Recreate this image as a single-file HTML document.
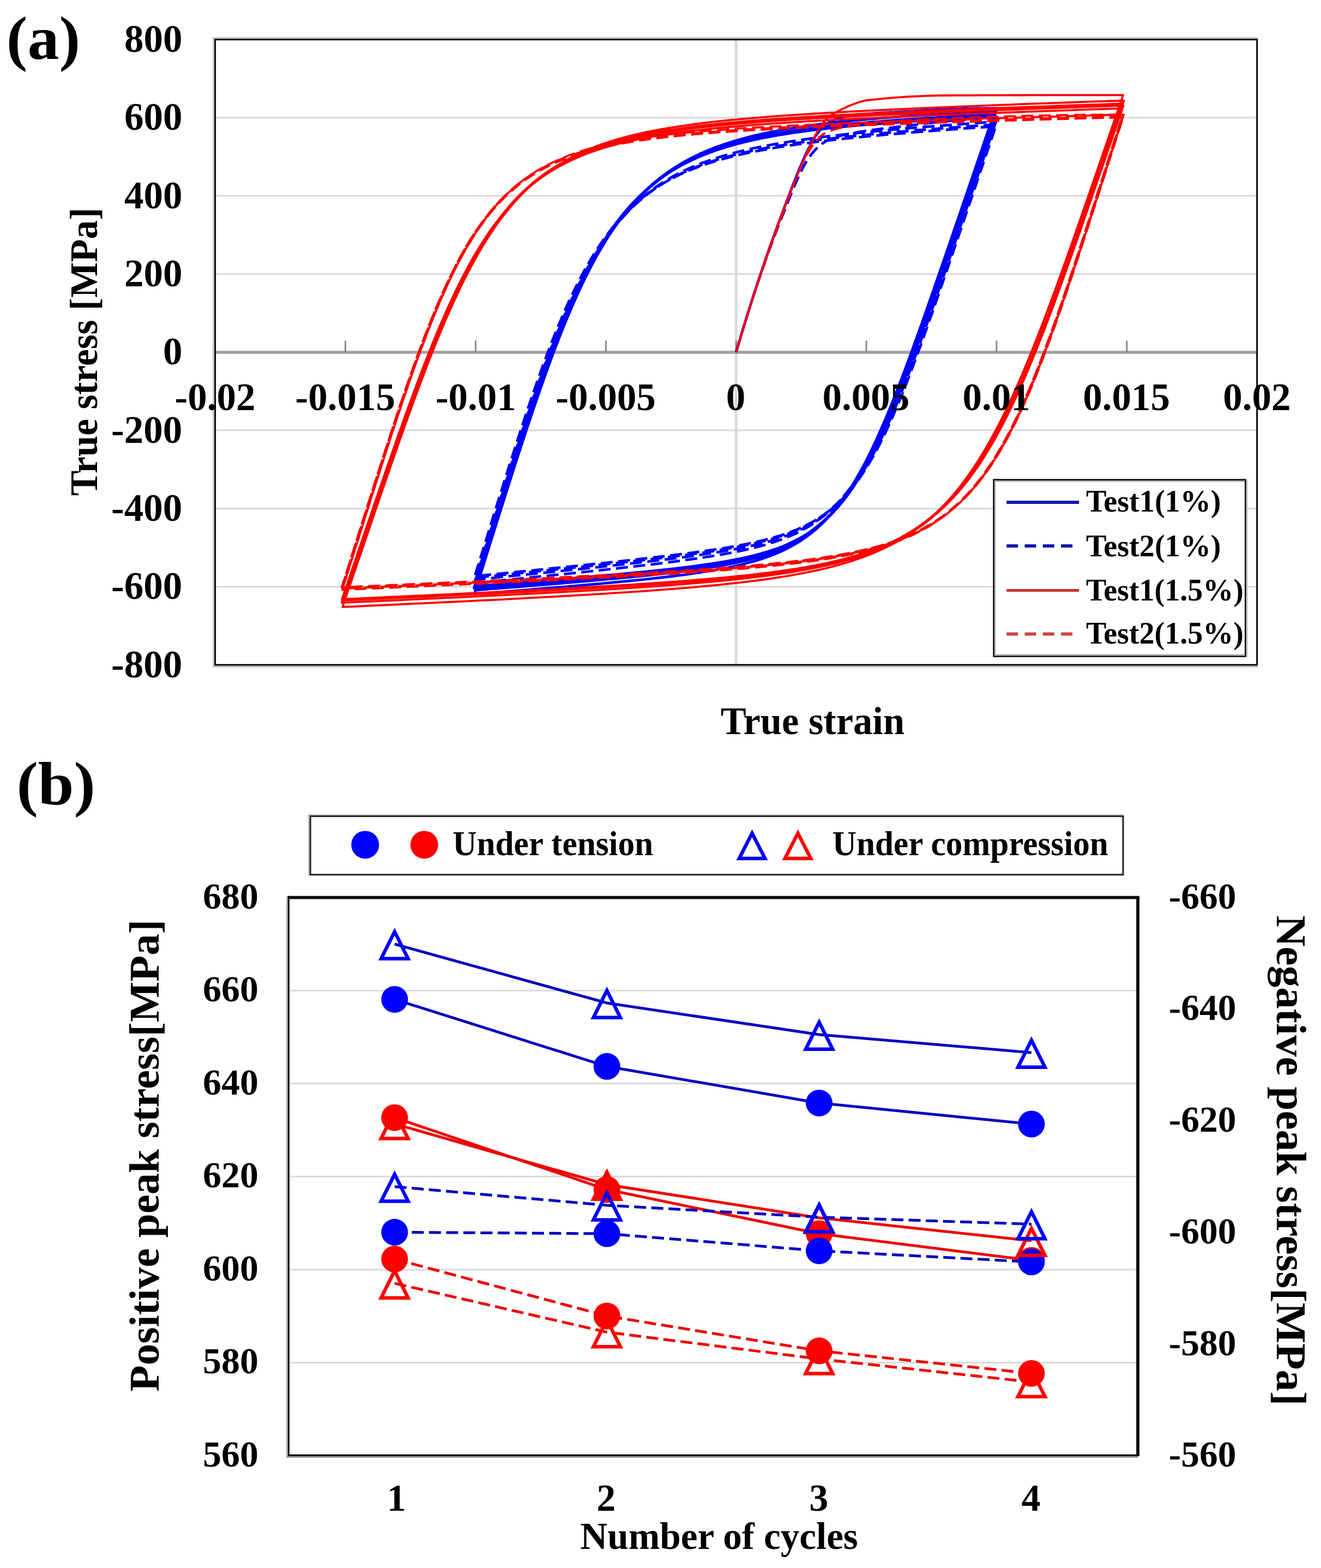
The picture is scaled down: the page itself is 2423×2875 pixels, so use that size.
<!DOCTYPE html><html><head><meta charset="utf-8"><title>Cyclic stress-strain response</title><style>html,body{margin:0;padding:0;background:#fff}svg{display:block}text{font-family:"Liberation Serif","Times New Roman",serif;font-weight:bold;fill:#000}</style></head><body>
<svg width="2423" height="2875" viewBox="0 0 2423 2875">
<rect x="0" y="0" width="2423" height="2875" fill="#fff"/>
<g id="panel-a">
<line x1="394.6" y1="215.8" x2="2305.7" y2="215.8" stroke="#d9d9d9" stroke-width="3"/>
<line x1="394.6" y1="359.1" x2="2305.7" y2="359.1" stroke="#d9d9d9" stroke-width="3"/>
<line x1="394.6" y1="502.4" x2="2305.7" y2="502.4" stroke="#d9d9d9" stroke-width="3"/>
<line x1="394.6" y1="789.1" x2="2305.7" y2="789.1" stroke="#d9d9d9" stroke-width="3"/>
<line x1="394.6" y1="932.4" x2="2305.7" y2="932.4" stroke="#d9d9d9" stroke-width="3"/>
<line x1="394.6" y1="1075.7" x2="2305.7" y2="1075.7" stroke="#d9d9d9" stroke-width="3"/>
<line x1="1350.15" y1="72.5" x2="1350.15" y2="1219.0" stroke="#d9d9d9" stroke-width="5"/>
<line x1="394.6" y1="645.9" x2="2305.7" y2="645.9" stroke="#a0a0a0" stroke-width="5.5"/>
<line x1="633.5" y1="624.5" x2="633.5" y2="646" stroke="#8a8a8a" stroke-width="3"/>
<line x1="872.4" y1="624.5" x2="872.4" y2="646" stroke="#8a8a8a" stroke-width="3"/>
<line x1="1111.3" y1="624.5" x2="1111.3" y2="646" stroke="#8a8a8a" stroke-width="3"/>
<line x1="1350.2" y1="624.5" x2="1350.2" y2="646" stroke="#8a8a8a" stroke-width="3"/>
<line x1="1589.0" y1="624.5" x2="1589.0" y2="646" stroke="#8a8a8a" stroke-width="3"/>
<line x1="1827.9" y1="624.5" x2="1827.9" y2="646" stroke="#8a8a8a" stroke-width="3"/>
<line x1="2066.8" y1="624.5" x2="2066.8" y2="646" stroke="#8a8a8a" stroke-width="3"/>
<g fill="none" stroke-linejoin="round" stroke-linecap="butt">
<path d="M1350.2,645.8L1350.9,643.1L1352.1,639.3L1353.4,634.8L1354.9,629.8L1356.5,624.5L1358.2,618.9L1359.9,613.0L1361.8,606.9L1363.7,600.6L1365.7,594.1L1367.8,587.5L1369.9,580.7L1372.0,573.7L1374.2,566.7L1376.5,559.5L1378.8,552.3L1381.2,544.9L1383.6,537.5L1386.0,530.0L1388.5,522.5L1391.0,514.9L1393.5,507.2L1396.1,499.5L1398.7,491.7L1401.4,483.9L1404.0,476.1L1406.7,468.3L1409.5,460.4L1412.3,452.5L1415.1,444.6L1417.9,436.7L1420.7,428.8L1423.6,420.9L1426.5,413.0L1429.5,405.1L1432.4,397.2L1435.4,389.3L1438.4,381.2L1441.4,373.2L1444.5,365.1L1447.6,357.0L1450.7,348.9L1453.8,340.8L1456.9,332.8L1460.1,324.8L1463.3,317.0L1466.5,309.2L1469.7,301.6L1473.0,294.1L1476.2,286.8L1479.5,279.7L1482.8,272.9L1486.2,266.3L1489.5,260.0L1492.9,254.0L1496.2,248.7L1499.6,244.2L1503.1,239.9L1506.5,236.0L1510.0,232.4L1513.4,229.3L1516.9,226.8L1520.4,224.8L1523.9,223.0L1527.5,221.2L1531.0,219.6L1534.6,218.2L1538.2,216.9L1541.8,215.7L1545.4,214.8L1549.0,214.0L1552.7,213.4L1556.4,212.8L1560.0,212.3L1563.7,211.8L1567.4,211.3L1571.2,210.8L1574.9,210.4L1578.7,210.0L1582.4,209.6L1586.2,209.2L1590.0,208.9L1593.8,208.6L1597.6,208.3L1601.5,208.0L1605.3,207.7L1609.2,207.4L1613.1,207.2L1617.0,206.9L1620.9,206.7L1624.8,206.5L1628.7,206.2L1632.7,206.0L1636.6,205.8L1640.6,205.6L1644.6,205.3L1648.5,205.1L1652.6,204.9L1656.6,204.7L1660.6,204.4L1664.6,204.2L1668.7,204.0L1672.8,203.8L1676.8,203.6L1680.9,203.3L1685.0,203.1L1689.1,202.9L1693.3,202.7L1697.4,202.5L1701.6,202.3L1705.7,202.1L1709.9,201.9L1714.1,201.7L1718.3,201.5L1722.5,201.3L1726.7,201.1L1730.9,200.9L1735.1,200.7L1739.4,200.6L1743.6,200.4L1747.9,200.2L1752.2,200.1L1756.5,199.9L1760.8,199.8L1765.1,199.6L1769.4,199.5L1773.7,199.4L1778.1,199.3L1782.4,199.2L1786.8,199.1L1791.2,199.0L1795.5,198.9L1799.9,198.8L1804.3,198.8L1808.7,198.7L1813.2,198.7L1817.6,198.6L1822.0,198.6L1826.5,198.6L1826.3,199.1L1825.9,200.3L1825.4,201.9L1824.7,204.0L1823.8,206.4L1822.8,209.3L1821.8,212.5L1820.5,216.0L1819.2,219.8L1817.8,224.0L1816.3,228.5L1814.7,233.2L1812.9,238.3L1811.1,243.6L1809.2,249.2L1807.2,255.0L1805.1,261.2L1802.9,267.5L1800.7,274.2L1798.3,281.1L1795.9,288.2L1793.3,295.6L1790.7,303.2L1788.1,311.0L1785.3,319.1L1782.5,327.4L1779.5,335.9L1776.5,344.7L1773.5,353.6L1770.3,362.8L1767.1,372.2L1763.8,381.9L1760.5,391.7L1757.0,401.7L1753.5,412.0L1749.9,422.4L1746.3,433.1L1742.6,443.9L1738.8,454.9L1734.9,466.2L1731.0,477.6L1727.0,489.2L1722.9,500.9L1718.8,512.8L1714.6,524.9L1710.3,537.2L1706.0,549.6L1701.6,562.1L1697.2,574.8L1692.7,587.6L1688.1,600.5L1683.4,613.5L1678.7,626.6L1673.9,639.8L1669.1,653.0L1664.2,666.3L1659.3,679.5L1654.2,692.8L1649.2,706.1L1644.0,719.3L1638.8,732.4L1633.6,745.5L1628.2,758.4L1622.9,771.2L1617.4,783.8L1611.9,796.2L1606.4,808.4L1600.8,820.3L1595.1,832.0L1589.4,843.4L1583.6,854.4L1577.7,865.1L1571.8,875.5L1565.9,885.5L1559.9,895.2L1553.8,904.4L1547.7,913.3L1541.5,921.7L1535.2,929.8L1528.9,937.5L1522.6,944.8L1516.2,951.7L1509.7,958.3L1503.2,964.5L1496.6,970.4L1490.0,975.9L1483.3,981.1L1476.6,986.0L1469.8,990.6L1463.0,994.9L1456.1,999.0L1449.1,1002.8L1442.1,1006.5L1435.1,1009.8L1428.0,1013.0L1420.8,1016.0L1413.6,1018.9L1406.3,1021.5L1399.0,1024.1L1391.7,1026.4L1384.3,1028.7L1376.8,1030.8L1369.3,1032.8L1361.7,1034.8L1354.1,1036.6L1346.4,1038.3L1338.7,1040.0L1330.9,1041.5L1323.1,1043.1L1315.2,1044.5L1307.3,1045.9L1299.3,1047.2L1291.3,1048.5L1283.2,1049.8L1275.1,1051.0L1266.9,1052.1L1258.6,1053.3L1250.4,1054.4L1242.0,1055.4L1233.7,1056.5L1225.3,1057.5L1216.8,1058.5L1208.3,1059.5L1199.7,1060.4L1191.1,1061.4L1182.4,1062.3L1173.7,1063.2L1164.9,1064.1L1156.1,1065.0L1147.3,1065.8L1138.4,1066.7L1129.4,1067.5L1120.4,1068.4L1111.4,1069.2L1102.3,1070.1L1093.1,1070.9L1083.9,1071.7L1074.7,1072.5L1065.4,1073.3L1056.1,1074.1L1046.7,1075.0L1037.3,1075.8L1027.8,1076.6L1018.3,1077.4L1008.7,1078.2L999.1,1079.0L989.4,1079.7L979.7,1080.5L970.0,1081.3L960.2,1082.1L950.4,1082.9L940.5,1083.7L930.5,1084.5L920.6,1085.3L910.5,1086.1L900.5,1086.9L890.4,1087.7L880.2,1088.5L870.0,1089.3L870.2,1088.7L870.6,1087.5L871.1,1085.7L871.8,1083.5L872.7,1080.8L873.6,1077.7L874.7,1074.2L875.9,1070.3L877.3,1066.1L878.7,1061.6L880.2,1056.7L881.8,1051.5L883.6,1046.0L885.4,1040.2L887.3,1034.1L889.3,1027.7L891.4,1021.0L893.6,1014.0L895.9,1006.8L898.2,999.3L900.6,991.5L903.2,983.5L905.8,975.2L908.5,966.6L911.2,957.9L914.1,948.8L917.0,939.6L920.0,930.1L923.1,920.3L926.2,910.4L929.4,900.2L932.7,889.9L936.1,879.3L939.5,868.5L943.0,857.6L946.6,846.4L950.3,835.1L954.0,823.7L957.8,812.0L961.7,800.3L965.6,788.3L969.6,776.3L973.7,764.2L977.8,751.9L982.0,739.6L986.3,727.2L990.6,714.7L995.0,702.2L999.4,689.7L1004.0,677.1L1008.5,664.6L1013.2,652.0L1017.9,639.5L1022.7,627.1L1027.5,614.7L1032.4,602.4L1037.4,590.2L1042.4,578.1L1047.5,566.2L1052.6,554.4L1057.8,542.7L1063.1,531.3L1068.4,520.0L1073.8,508.9L1079.3,498.1L1084.8,487.5L1090.3,477.1L1095.9,466.9L1101.6,457.0L1107.4,447.4L1113.1,438.0L1119.0,428.9L1124.9,420.1L1130.9,411.6L1136.9,403.3L1143.0,395.3L1149.1,387.5L1155.3,380.0L1161.5,372.8L1167.8,365.9L1174.2,359.2L1180.6,352.8L1187.1,346.6L1193.6,340.6L1200.2,334.9L1206.8,329.4L1213.5,324.2L1220.2,319.1L1227.0,314.3L1233.9,309.7L1240.8,305.2L1247.7,301.0L1254.7,296.9L1261.8,293.0L1268.9,289.3L1276.1,285.8L1283.3,282.3L1290.5,279.1L1297.9,276.0L1305.2,273.0L1312.7,270.1L1320.1,267.4L1327.7,264.7L1335.3,262.2L1342.9,259.8L1350.6,257.5L1358.3,255.3L1366.1,253.2L1373.9,251.1L1381.8,249.2L1389.7,247.3L1397.7,245.5L1405.8,243.8L1413.8,242.1L1422.0,240.6L1430.2,239.0L1438.4,237.6L1446.7,236.1L1455.0,234.8L1463.4,233.5L1471.8,232.2L1480.3,231.0L1488.8,229.8L1497.4,228.6L1506.0,227.5L1514.7,226.5L1523.4,225.5L1532.2,224.5L1541.0,223.5L1549.9,222.6L1558.8,221.6L1567.8,220.8L1576.8,219.9L1585.8,219.1L1594.9,218.3L1604.1,217.5L1613.3,216.7L1622.5,216.0L1631.8,215.3L1641.2,214.6L1650.6,213.9L1660.0,213.2L1669.5,212.5L1679.0,211.9L1688.6,211.3L1698.2,210.7L1707.9,210.1L1717.6,209.5L1727.3,208.9L1737.1,208.3L1747.0,207.8L1756.9,207.2L1766.8,206.7L1776.8,206.2L1786.9,205.6L1796.9,205.1L1807.1,204.6L1817.2,204.1L1827.4,203.6L1827.3,204.1L1826.9,205.3L1826.3,206.9L1825.6,209.0L1824.8,211.4L1823.8,214.3L1822.7,217.5L1821.5,221.0L1820.2,224.8L1818.8,229.0L1817.2,233.5L1815.6,238.2L1813.9,243.2L1812.1,248.6L1810.2,254.2L1808.2,260.0L1806.1,266.1L1803.9,272.5L1801.6,279.1L1799.3,286.0L1796.8,293.2L1794.3,300.5L1791.7,308.1L1789.0,316.0L1786.3,324.0L1783.4,332.3L1780.5,340.9L1777.5,349.6L1774.5,358.6L1771.3,367.8L1768.1,377.2L1764.8,386.8L1761.4,396.6L1758.0,406.6L1754.5,416.9L1750.9,427.3L1747.3,438.0L1743.5,448.8L1739.8,459.8L1735.9,471.0L1732.0,482.4L1728.0,494.0L1723.9,505.7L1719.8,517.7L1715.6,529.7L1711.4,542.0L1707.0,554.3L1702.6,566.9L1698.2,579.5L1693.7,592.3L1689.1,605.1L1684.5,618.1L1679.7,631.1L1675.0,644.3L1670.1,657.4L1665.3,670.6L1660.3,683.8L1655.3,697.0L1650.2,710.1L1645.1,723.2L1639.9,736.2L1634.6,749.1L1629.3,761.9L1623.9,774.5L1618.5,786.9L1613.0,799.1L1607.4,811.1L1601.8,822.8L1596.2,834.2L1590.4,845.3L1584.7,856.1L1578.8,866.6L1572.9,876.7L1567.0,886.4L1560.9,895.7L1554.9,904.6L1548.7,913.2L1542.6,921.4L1536.3,929.1L1530.0,936.5L1523.7,943.5L1517.3,950.1L1510.8,956.4L1504.3,962.3L1497.8,967.9L1491.1,973.1L1484.5,978.1L1477.7,982.7L1470.9,987.1L1464.1,991.2L1457.2,995.1L1450.3,998.7L1443.3,1002.1L1436.2,1005.3L1429.1,1008.4L1422.0,1011.2L1414.8,1013.9L1407.5,1016.4L1400.2,1018.8L1392.8,1021.0L1385.4,1023.2L1378.0,1025.2L1370.4,1027.1L1362.9,1028.9L1355.3,1030.7L1347.6,1032.3L1339.9,1033.9L1332.1,1035.4L1324.3,1036.8L1316.4,1038.2L1308.5,1039.6L1300.5,1040.8L1292.5,1042.1L1284.4,1043.3L1276.3,1044.4L1268.1,1045.5L1259.9,1046.6L1251.6,1047.7L1243.3,1048.7L1234.9,1049.7L1226.5,1050.7L1218.0,1051.7L1209.5,1052.7L1201.0,1053.6L1192.3,1054.5L1183.7,1055.4L1175.0,1056.3L1166.2,1057.2L1157.4,1058.0L1148.6,1058.9L1139.7,1059.7L1130.7,1060.6L1121.7,1061.4L1112.7,1062.2L1103.6,1063.0L1094.4,1063.9L1085.3,1064.7L1076.0,1065.5L1066.7,1066.3L1057.4,1067.1L1048.0,1067.9L1038.6,1068.7L1029.1,1069.5L1019.6,1070.3L1010.1,1071.1L1000.5,1071.8L990.8,1072.6L981.1,1073.4L971.4,1074.2L961.6,1075.0L951.7,1075.8L941.9,1076.6L931.9,1077.4L922.0,1078.2L911.9,1079.0L901.9,1079.7L891.8,1080.5L881.6,1081.3L871.4,1082.1L871.6,1081.6L872.0,1080.3L872.5,1078.6L873.2,1076.3L874.1,1073.6L875.1,1070.5L876.1,1067.1L877.3,1063.2L878.7,1059.0L880.1,1054.5L881.6,1049.7L883.2,1044.5L884.9,1039.0L886.8,1033.2L888.7,1027.1L890.7,1020.7L892.8,1014.1L894.9,1007.1L897.2,999.9L899.5,992.4L902.0,984.7L904.5,976.7L907.1,968.4L909.8,959.9L912.5,951.2L915.3,942.2L918.3,932.9L921.2,923.5L924.3,913.8L927.4,903.9L930.7,893.8L933.9,883.4L937.3,872.9L940.7,862.2L944.2,851.3L947.8,840.2L951.4,828.9L955.1,817.5L958.9,805.9L962.8,794.2L966.7,782.4L970.7,770.4L974.7,758.4L978.8,746.2L983.0,733.9L987.3,721.6L991.6,709.2L996.0,696.8L1000.4,684.4L1004.9,671.9L1009.5,659.5L1014.1,647.1L1018.8,634.7L1023.6,622.4L1028.4,610.1L1033.3,598.0L1038.2,585.9L1043.2,574.0L1048.3,562.2L1053.4,550.6L1058.6,539.1L1063.9,527.9L1069.2,516.8L1074.5,505.9L1080.0,495.3L1085.4,484.9L1091.0,474.7L1096.6,464.8L1102.2,455.1L1108.0,445.7L1113.7,436.5L1119.6,427.7L1125.4,419.0L1131.4,410.7L1137.4,402.6L1143.4,394.8L1149.6,387.3L1155.7,380.1L1162.0,373.1L1168.2,366.3L1174.6,359.9L1181.0,353.6L1187.4,347.6L1193.9,341.9L1200.5,336.4L1207.1,331.1L1213.7,326.0L1220.4,321.2L1227.2,316.5L1234.0,312.0L1240.9,307.8L1247.8,303.7L1254.8,299.8L1261.9,296.0L1268.9,292.5L1276.1,289.0L1283.3,285.8L1290.5,282.6L1297.8,279.6L1305.2,276.8L1312.6,274.0L1320.0,271.4L1327.5,268.9L1335.1,266.4L1342.7,264.1L1350.3,261.9L1358.0,259.8L1365.8,257.8L1373.6,255.8L1381.4,254.0L1389.4,252.2L1397.3,250.4L1405.3,248.8L1413.4,247.2L1421.5,245.7L1429.6,244.2L1437.8,242.8L1446.1,241.4L1454.4,240.1L1462.8,238.9L1471.2,237.7L1479.6,236.5L1488.1,235.3L1496.7,234.3L1505.2,233.2L1513.9,232.2L1522.6,231.2L1531.3,230.2L1540.1,229.3L1548.9,228.4L1557.8,227.5L1566.8,226.7L1575.7,225.9L1584.8,225.1L1593.8,224.3L1603.0,223.5L1612.1,222.8L1621.3,222.1L1630.6,221.4L1639.9,220.7L1649.3,220.0L1658.7,219.4L1668.1,218.7L1677.6,218.1L1687.2,217.5L1696.7,216.9L1706.4,216.3L1716.1,215.8L1725.8,215.2L1735.6,214.6L1745.4,214.1L1755.2,213.6L1765.1,213.1L1775.1,212.5L1785.1,212.0L1795.1,211.5L1805.2,211.0L1815.4,210.6L1825.5,210.1L1825.4,210.6L1825.0,211.7L1824.4,213.4L1823.7,215.4L1822.9,217.9L1821.9,220.7L1820.8,223.9L1819.6,227.4L1818.3,231.3L1816.9,235.4L1815.3,239.9L1813.7,244.7L1812.0,249.7L1810.2,255.0L1808.3,260.6L1806.3,266.5L1804.2,272.6L1802.0,279.0L1799.7,285.6L1797.4,292.5L1794.9,299.6L1792.4,307.0L1789.8,314.6L1787.1,322.4L1784.4,330.5L1781.5,338.8L1778.6,347.3L1775.6,356.1L1772.5,365.0L1769.4,374.2L1766.2,383.6L1762.9,393.2L1759.5,403.1L1756.1,413.1L1752.6,423.3L1749.0,433.8L1745.4,444.4L1741.6,455.2L1737.9,466.3L1734.0,477.5L1730.1,488.8L1726.1,500.4L1722.0,512.2L1717.9,524.1L1713.7,536.1L1709.4,548.3L1705.1,560.7L1700.7,573.2L1696.3,585.8L1691.8,598.6L1687.2,611.4L1682.5,624.3L1677.8,637.3L1673.1,650.4L1668.2,663.5L1663.3,676.6L1658.4,689.7L1653.4,702.8L1648.3,715.8L1643.2,728.8L1638.0,741.7L1632.7,754.5L1627.4,767.1L1622.0,779.6L1616.6,791.8L1611.1,803.8L1605.5,815.6L1599.9,827.1L1594.3,838.3L1588.5,849.2L1582.7,859.7L1576.9,869.9L1571.0,879.7L1565.0,889.2L1559.0,898.2L1553.0,906.9L1546.8,915.1L1540.7,923.0L1534.4,930.5L1528.1,937.6L1521.8,944.3L1515.4,950.7L1508.9,956.7L1502.4,962.3L1495.8,967.6L1489.2,972.7L1482.5,977.4L1475.8,981.8L1469.0,986.0L1462.2,989.9L1455.3,993.6L1448.4,997.0L1441.4,1000.3L1434.3,1003.3L1427.2,1006.2L1420.1,1008.9L1412.9,1011.4L1405.6,1013.8L1398.3,1016.1L1390.9,1018.2L1383.5,1020.3L1376.1,1022.2L1368.5,1024.0L1361.0,1025.8L1353.3,1027.4L1345.7,1029.0L1338.0,1030.5L1330.2,1031.9L1322.4,1033.3L1314.5,1034.7L1306.6,1035.9L1298.6,1037.2L1290.6,1038.4L1282.5,1039.5L1274.4,1040.6L1266.2,1041.7L1258.0,1042.8L1249.7,1043.8L1241.4,1044.8L1233.0,1045.8L1224.6,1046.8L1216.1,1047.7L1207.6,1048.6L1199.1,1049.6L1190.4,1050.5L1181.8,1051.3L1173.1,1052.2L1164.3,1053.1L1155.5,1053.9L1146.6,1054.8L1137.7,1055.6L1128.8,1056.4L1119.8,1057.2L1110.8,1058.1L1101.7,1058.9L1092.5,1059.7L1083.3,1060.5L1074.1,1061.3L1064.8,1062.1L1055.5,1062.9L1046.1,1063.7L1036.7,1064.4L1027.2,1065.2L1017.7,1066.0L1008.2,1066.8L998.6,1067.6L988.9,1068.4L979.2,1069.2L969.5,1069.9L959.7,1070.7L949.8,1071.5L940.0,1072.3L930.0,1073.1L920.1,1073.9L910.0,1074.7L900.0,1075.5L889.9,1076.2L879.7,1077.0L869.5,1077.8L869.7,1077.3L870.1,1076.0L870.6,1074.3L871.3,1072.0L872.2,1069.3L873.2,1066.2L874.2,1062.7L875.5,1058.9L876.8,1054.7L878.2,1050.1L879.7,1045.2L881.4,1040.0L883.1,1034.5L884.9,1028.7L886.8,1022.6L888.8,1016.2L890.9,1009.5L893.1,1002.6L895.4,995.3L897.7,987.8L900.2,980.0L902.7,972.0L905.3,963.7L908.0,955.2L910.7,946.4L913.6,937.4L916.5,928.1L919.5,918.6L922.6,908.9L925.7,899.0L929.0,888.8L932.2,878.5L935.6,867.9L939.1,857.2L942.6,846.2L946.2,835.1L949.8,823.8L953.5,812.4L957.3,800.8L961.2,789.1L965.1,777.2L969.1,765.2L973.2,753.2L977.3,741.0L981.5,728.7L985.8,716.4L990.1,704.1L994.5,691.7L999.0,679.2L1003.5,666.8L1008.1,654.4L1012.7,642.1L1017.4,629.7L1022.2,617.5L1027.0,605.3L1031.9,593.2L1036.9,581.3L1041.9,569.4L1047.0,557.7L1052.2,546.2L1057.4,534.9L1062.6,523.7L1067.9,512.8L1073.3,502.1L1078.8,491.6L1084.3,481.3L1089.8,471.3L1095.5,461.5L1101.1,452.0L1106.9,442.8L1112.7,433.8L1118.5,425.1L1124.4,416.7L1130.4,408.5L1136.4,400.7L1142.5,393.1L1148.6,385.7L1154.8,378.6L1161.1,371.8L1167.4,365.3L1173.7,359.0L1180.1,352.9L1186.6,347.1L1193.1,341.6L1199.7,336.2L1206.3,331.1L1213.0,326.2L1219.8,321.5L1226.5,317.0L1233.4,312.7L1240.3,308.6L1247.2,304.6L1254.2,300.9L1261.3,297.3L1268.4,293.8L1275.6,290.5L1282.8,287.4L1290.1,284.3L1297.4,281.4L1304.8,278.7L1312.2,276.0L1319.7,273.5L1327.2,271.1L1334.8,268.8L1342.4,266.6L1350.1,264.4L1357.8,262.4L1365.6,260.5L1373.4,258.6L1381.3,256.8L1389.3,255.1L1397.2,253.4L1405.3,251.8L1413.4,250.3L1421.5,248.8L1429.7,247.4L1437.9,246.1L1446.2,244.8L1454.5,243.5L1462.9,242.3L1471.3,241.1L1479.8,240.0L1488.4,238.9L1496.9,237.8L1505.6,236.8L1514.2,235.8L1523.0,234.9L1531.7,234.0L1540.5,233.1L1549.4,232.2L1558.3,231.3L1567.3,230.5L1576.3,229.7L1585.4,229.0L1594.5,228.2L1603.6,227.5L1612.8,226.8L1622.1,226.1L1631.4,225.4L1640.7,224.7L1650.1,224.1L1659.5,223.5L1669.0,222.8L1678.5,222.2L1688.1,221.6L1697.7,221.1L1707.4,220.5L1717.1,219.9L1726.9,219.4L1736.7,218.8L1746.5,218.3L1756.4,217.8L1766.4,217.3L1776.3,216.8L1786.4,216.3L1796.5,215.8L1806.6,215.3L1816.8,214.8L1827.0,214.4L1826.8,214.9L1826.4,216.0L1825.8,217.7L1825.1,219.7L1824.3,222.2L1823.3,225.0L1822.2,228.2L1821.0,231.7L1819.7,235.6L1818.3,239.7L1816.8,244.2L1815.1,249.0L1813.4,254.0L1811.6,259.3L1809.7,264.9L1807.7,270.8L1805.6,276.9L1803.4,283.3L1801.1,289.9L1798.8,296.8L1796.4,303.9L1793.8,311.3L1791.2,318.9L1788.6,326.7L1785.8,334.8L1783.0,343.1L1780.0,351.6L1777.0,360.4L1774.0,369.3L1770.8,378.5L1767.6,387.9L1764.3,397.5L1761.0,407.4L1757.5,417.4L1754.0,427.6L1750.4,438.1L1746.8,448.7L1743.1,459.5L1739.3,470.5L1735.4,481.7L1731.5,493.1L1727.5,504.7L1723.5,516.4L1719.3,528.3L1715.1,540.4L1710.9,552.6L1706.6,564.9L1702.2,577.4L1697.7,590.0L1693.2,602.7L1688.6,615.5L1684.0,628.4L1679.3,641.4L1674.5,654.4L1669.7,667.5L1664.8,680.6L1659.8,693.6L1654.8,706.6L1649.7,719.6L1644.6,732.5L1639.4,745.3L1634.1,758.0L1628.8,770.5L1623.4,782.8L1618.0,795.0L1612.5,806.9L1607.0,818.5L1601.4,829.8L1595.7,840.9L1590.0,851.6L1584.2,861.9L1578.3,871.9L1572.4,881.5L1566.5,890.8L1560.5,899.6L1554.4,908.1L1548.3,916.2L1542.1,923.8L1535.9,931.1L1529.6,938.0L1523.2,944.5L1516.8,950.7L1510.4,956.5L1503.8,962.0L1497.3,967.2L1490.7,972.0L1484.0,976.6L1477.3,980.9L1470.5,984.9L1463.6,988.7L1456.7,992.2L1449.8,995.5L1442.8,998.7L1435.8,1001.6L1428.7,1004.4L1421.5,1007.0L1414.3,1009.4L1407.0,1011.8L1399.7,1013.9L1392.4,1016.0L1384.9,1018.0L1377.5,1019.8L1370.0,1021.6L1362.4,1023.3L1354.8,1024.9L1347.1,1026.4L1339.4,1027.9L1331.6,1029.3L1323.8,1030.6L1315.9,1031.9L1308.0,1033.2L1300.0,1034.4L1292.0,1035.5L1283.9,1036.7L1275.8,1037.8L1267.6,1038.8L1259.4,1039.9L1251.1,1040.9L1242.8,1041.9L1234.4,1042.8L1226.0,1043.8L1217.6,1044.7L1209.0,1045.6L1200.5,1046.5L1191.9,1047.4L1183.2,1048.3L1174.5,1049.1L1165.7,1050.0L1156.9,1050.8L1148.1,1051.7L1139.2,1052.5L1130.2,1053.3L1121.2,1054.1L1112.2,1054.9L1103.1,1055.7L1094.0,1056.5L1084.8,1057.3L1075.5,1058.1L1066.3,1058.9L1056.9,1059.7L1047.6,1060.5L1038.1,1061.3L1028.7,1062.0L1019.2,1062.8L1009.6,1063.6L1000.0,1064.4L990.3,1065.2L980.6,1066.0L970.9,1066.7L961.1,1067.5L951.3,1068.3L941.4,1069.1L931.5,1069.9L921.5,1070.7L911.5,1071.4L901.4,1072.2L891.3,1073.0L881.1,1073.8L870.9,1074.6" stroke="#0000ff" stroke-width="4.8"/>
<path d="M1350.2,645.8L1350.9,643.1L1352.1,639.2L1353.4,634.7L1354.9,629.7L1356.5,624.4L1358.2,618.7L1359.9,612.8L1361.8,606.7L1363.7,600.4L1365.7,593.9L1367.7,587.3L1369.9,580.5L1372.0,573.6L1374.2,566.6L1376.5,559.5L1378.8,552.4L1381.1,545.1L1383.5,537.8L1386.0,530.4L1388.4,523.0L1390.9,515.5L1393.5,508.1L1396.0,500.5L1398.7,493.0L1401.3,485.4L1404.0,477.8L1406.7,470.3L1409.4,462.7L1412.2,455.1L1415.0,447.6L1417.8,440.0L1420.7,432.5L1423.5,425.0L1426.4,417.5L1429.4,410.0L1432.3,402.6L1435.3,395.1L1438.3,387.5L1441.3,379.8L1444.4,372.1L1447.5,364.4L1450.6,356.8L1453.7,349.2L1456.8,341.7L1460.0,334.4L1463.2,327.3L1466.4,320.4L1469.6,313.7L1472.8,307.4L1476.1,301.4L1479.4,295.8L1482.7,290.7L1486.0,286.0L1489.4,281.6L1492.7,277.6L1496.1,273.9L1499.5,270.5L1502.9,267.5L1506.3,264.8L1509.8,262.3L1513.3,259.9L1516.7,257.9L1520.2,256.1L1523.8,254.6L1527.3,253.2L1530.9,252.0L1534.4,250.8L1538.0,249.7L1541.6,248.8L1545.2,247.9L1548.8,247.1L1552.5,246.3L1556.2,245.5L1559.8,244.8L1563.5,244.1L1567.2,243.4L1570.9,242.8L1574.7,242.2L1578.4,241.5L1582.2,241.0L1586.0,240.4L1589.8,239.8L1593.6,239.3L1597.4,238.7L1601.2,238.2L1605.1,237.7L1608.9,237.2L1612.8,236.7L1616.7,236.2L1620.6,235.7L1624.5,235.3L1628.4,234.8L1632.4,234.3L1636.3,233.8L1640.3,233.3L1644.3,232.8L1648.3,232.3L1652.3,231.8L1656.3,231.3L1660.3,230.8L1664.3,230.4L1668.4,229.9L1672.4,229.4L1676.5,228.9L1680.6,228.4L1684.7,227.9L1688.8,227.5L1692.9,227.0L1697.1,226.5L1701.2,226.0L1705.4,225.6L1709.5,225.1L1713.7,224.7L1717.9,224.2L1722.1,223.7L1726.3,223.3L1730.5,222.8L1734.7,222.4L1739.0,222.0L1743.2,221.5L1747.5,221.1L1751.8,220.7L1756.1,220.3L1760.4,219.8L1764.7,219.4L1769.0,219.0L1773.3,218.6L1777.6,218.2L1782.0,217.9L1786.3,217.5L1790.7,217.1L1795.1,216.7L1799.5,216.4L1803.9,216.0L1808.3,215.7L1812.7,215.3L1817.1,215.0L1821.6,214.7L1826.0,214.4L1825.8,214.9L1825.4,216.0L1824.9,217.7L1824.2,219.8L1823.3,222.2L1822.4,225.1L1821.3,228.3L1820.1,231.9L1818.8,235.7L1817.3,239.9L1815.8,244.4L1814.2,249.2L1812.5,254.3L1810.7,259.6L1808.7,265.3L1806.7,271.2L1804.6,277.3L1802.5,283.8L1800.2,290.4L1797.8,297.4L1795.4,304.5L1792.9,312.0L1790.3,319.6L1787.6,327.5L1784.9,335.7L1782.0,344.0L1779.1,352.6L1776.1,361.4L1773.0,370.4L1769.9,379.7L1766.7,389.2L1763.4,398.8L1760.0,408.7L1756.6,418.8L1753.1,429.1L1749.5,439.6L1745.9,450.4L1742.2,461.2L1738.4,472.3L1734.5,483.6L1730.6,495.1L1726.6,506.7L1722.5,518.5L1718.4,530.4L1714.2,542.5L1710.0,554.8L1705.7,567.2L1701.3,579.7L1696.8,592.3L1692.3,605.1L1687.7,617.9L1683.1,630.8L1678.4,643.7L1673.6,656.7L1668.8,669.7L1663.9,682.7L1659.0,695.6L1653.9,708.5L1648.9,721.3L1643.7,734.0L1638.5,746.6L1633.3,759.0L1628.0,771.2L1622.6,783.2L1617.2,795.0L1611.7,806.5L1606.1,817.7L1600.5,828.5L1594.8,839.1L1589.1,849.3L1583.3,859.1L1577.5,868.6L1571.6,877.6L1565.7,886.3L1559.6,894.6L1553.6,902.4L1547.5,909.9L1541.3,917.0L1535.0,923.7L1528.8,930.1L1522.4,936.1L1516.0,941.7L1509.6,947.1L1503.0,952.1L1496.5,956.8L1489.9,961.2L1483.2,965.4L1476.5,969.3L1469.7,973.0L1462.9,976.5L1456.0,979.8L1449.0,982.9L1442.0,985.8L1435.0,988.5L1427.9,991.1L1420.7,993.6L1413.5,995.9L1406.3,998.1L1399.0,1000.2L1391.6,1002.2L1384.2,1004.1L1376.8,1005.9L1369.2,1007.6L1361.7,1009.3L1354.1,1010.9L1346.4,1012.5L1338.7,1014.0L1330.9,1015.4L1323.1,1016.8L1315.2,1018.2L1307.3,1019.5L1299.3,1020.8L1291.3,1022.0L1283.2,1023.2L1275.1,1024.4L1267.0,1025.6L1258.7,1026.7L1250.5,1027.9L1242.2,1029.0L1233.8,1030.1L1225.4,1031.2L1216.9,1032.2L1208.4,1033.3L1199.8,1034.3L1191.2,1035.4L1182.6,1036.4L1173.9,1037.4L1165.1,1038.4L1156.3,1039.4L1147.5,1040.4L1138.6,1041.4L1129.6,1042.4L1120.6,1043.4L1111.6,1044.4L1102.5,1045.4L1093.4,1046.4L1084.2,1047.4L1075.0,1048.3L1065.7,1049.3L1056.4,1050.3L1047.0,1051.3L1037.6,1052.3L1028.1,1053.3L1018.6,1054.2L1009.1,1055.2L999.5,1056.2L989.8,1057.2L980.1,1058.2L970.4,1059.2L960.6,1060.2L950.8,1061.2L940.9,1062.2L931.0,1063.2L921.0,1064.2L911.0,1065.2L900.9,1066.2L890.8,1067.2L880.7,1068.2L870.5,1069.2L870.6,1068.7L871.0,1067.4L871.6,1065.6L872.3,1063.4L873.1,1060.6L874.1,1057.5L875.2,1054.0L876.4,1050.1L877.7,1045.9L879.1,1041.3L880.7,1036.4L882.3,1031.2L884.0,1025.6L885.8,1019.8L887.8,1013.6L889.8,1007.2L891.9,1000.4L894.0,993.4L896.3,986.1L898.7,978.6L901.1,970.7L903.6,962.6L906.2,954.3L908.9,945.7L911.7,936.8L914.5,927.8L917.4,918.4L920.4,908.9L923.5,899.1L926.6,889.1L929.8,878.9L933.1,868.5L936.5,857.9L939.9,847.1L943.5,836.2L947.0,825.0L950.7,813.7L954.4,802.3L958.2,790.7L962.1,778.9L966.0,767.1L970.0,755.1L974.0,743.1L978.2,731.0L982.4,718.8L986.6,706.6L990.9,694.4L995.3,682.1L999.8,669.8L1004.3,657.6L1008.9,645.4L1013.5,633.3L1018.2,621.2L1023.0,609.3L1027.8,597.4L1032.7,585.7L1037.7,574.1L1042.7,562.7L1047.8,551.4L1052.9,540.4L1058.1,529.5L1063.4,518.9L1068.7,508.4L1074.1,498.3L1079.5,488.3L1085.0,478.7L1090.6,469.2L1096.2,460.1L1101.9,451.2L1107.6,442.6L1113.4,434.3L1119.2,426.2L1125.1,418.4L1131.1,410.9L1137.1,403.7L1143.2,396.7L1149.3,390.0L1155.5,383.5L1161.7,377.3L1168.0,371.3L1174.4,365.6L1180.8,360.1L1187.2,354.9L1193.8,349.8L1200.3,345.0L1206.9,340.3L1213.6,335.9L1220.4,331.6L1227.1,327.6L1234.0,323.7L1240.9,319.9L1247.8,316.4L1254.8,312.9L1261.9,309.6L1269.0,306.5L1276.1,303.5L1283.3,300.6L1290.6,297.8L1297.9,295.2L1305.3,292.6L1312.7,290.2L1320.2,287.8L1327.7,285.6L1335.3,283.4L1342.9,281.3L1350.6,279.3L1358.3,277.4L1366.1,275.5L1373.9,273.7L1381.8,271.9L1389.7,270.3L1397.7,268.6L1405.7,267.1L1413.8,265.6L1421.9,264.1L1430.1,262.7L1438.3,261.3L1446.6,260.0L1454.9,258.7L1463.3,257.4L1471.7,256.2L1480.2,255.0L1488.7,253.8L1497.3,252.7L1505.9,251.5L1514.5,250.5L1523.3,249.4L1532.0,248.4L1540.8,247.4L1549.7,246.4L1558.6,245.4L1567.6,244.4L1576.6,243.5L1585.6,242.6L1594.7,241.7L1603.8,240.8L1613.0,239.9L1622.3,239.0L1631.6,238.2L1640.9,237.4L1650.3,236.5L1659.7,235.7L1669.2,234.9L1678.7,234.1L1688.2,233.3L1697.9,232.5L1707.5,231.8L1717.2,231.0L1727.0,230.3L1736.8,229.5L1746.6,228.8L1756.5,228.0L1766.4,227.3L1776.4,226.6L1786.4,225.8L1796.5,225.1L1806.6,224.4L1816.8,223.7L1827.0,223.0L1826.8,223.5L1826.4,224.6L1825.8,226.3L1825.1,228.4L1824.3,230.8L1823.3,233.7L1822.2,236.9L1821.0,240.5L1819.7,244.3L1818.3,248.5L1816.8,253.0L1815.2,257.8L1813.4,262.9L1811.6,268.2L1809.7,273.8L1807.7,279.7L1805.6,285.9L1803.4,292.3L1801.2,299.0L1798.8,305.9L1796.4,313.1L1793.9,320.5L1791.3,328.2L1788.6,336.1L1785.8,344.2L1783.0,352.5L1780.1,361.1L1777.1,369.9L1774.0,379.0L1770.9,388.2L1767.7,397.7L1764.4,407.3L1761.0,417.2L1757.6,427.3L1754.1,437.6L1750.5,448.1L1746.9,458.8L1743.2,469.7L1739.4,480.8L1735.5,492.0L1731.6,503.5L1727.6,515.1L1723.6,526.9L1719.4,538.8L1715.2,550.9L1711.0,563.1L1706.7,575.4L1702.3,587.9L1697.8,600.5L1693.3,613.2L1688.8,625.9L1684.1,638.7L1679.4,651.6L1674.7,664.5L1669.8,677.3L1664.9,690.2L1660.0,703.0L1655.0,715.7L1649.9,728.4L1644.8,740.9L1639.6,753.2L1634.3,765.4L1629.0,777.4L1623.7,789.1L1618.2,800.6L1612.7,811.7L1607.2,822.6L1601.6,833.1L1595.9,843.3L1590.2,853.1L1584.4,862.6L1578.6,871.6L1572.7,880.3L1566.7,888.5L1560.7,896.4L1554.7,903.9L1548.6,911.0L1542.4,917.7L1536.1,924.0L1529.9,930.0L1523.5,935.6L1517.1,940.9L1510.7,945.9L1504.2,950.6L1497.6,955.0L1491.0,959.1L1484.3,963.0L1477.6,966.7L1470.8,970.1L1464.0,973.4L1457.1,976.4L1450.2,979.3L1443.2,982.0L1436.1,984.6L1429.1,987.0L1421.9,989.3L1414.7,991.5L1407.5,993.5L1400.2,995.5L1392.8,997.4L1385.4,999.2L1377.9,1000.9L1370.4,1002.5L1362.9,1004.1L1355.3,1005.6L1347.6,1007.1L1339.9,1008.5L1332.1,1009.9L1324.3,1011.2L1316.4,1012.5L1308.5,1013.8L1300.6,1015.0L1292.5,1016.2L1284.5,1017.4L1276.4,1018.5L1268.2,1019.7L1260.0,1020.8L1251.7,1021.9L1243.4,1023.0L1235.0,1024.0L1226.6,1025.1L1218.2,1026.1L1209.7,1027.2L1201.1,1028.2L1192.5,1029.2L1183.9,1030.2L1175.2,1031.2L1166.4,1032.2L1157.6,1033.2L1148.8,1034.2L1139.9,1035.2L1130.9,1036.2L1121.9,1037.1L1112.9,1038.1L1103.8,1039.1L1094.7,1040.1L1085.5,1041.0L1076.3,1042.0L1067.0,1043.0L1057.7,1044.0L1048.3,1044.9L1038.9,1045.9L1029.5,1046.9L1020.0,1047.9L1010.4,1048.8L1000.8,1049.8L991.2,1050.8L981.5,1051.8L971.8,1052.8L962.0,1053.8L952.1,1054.8L942.3,1055.7L932.4,1056.7L922.4,1057.7L912.4,1058.7L902.3,1059.8L892.2,1060.8L882.1,1061.8L871.9,1062.8L872.1,1062.2L872.5,1061.0L873.0,1059.2L873.7,1056.9L874.6,1054.2L875.5,1051.1L876.6,1047.6L877.8,1043.7L879.1,1039.5L880.5,1035.0L882.1,1030.1L883.7,1024.9L885.4,1019.3L887.2,1013.5L889.1,1007.4L891.1,1000.9L893.2,994.2L895.4,987.2L897.6,980.0L900.0,972.4L902.4,964.6L904.9,956.6L907.5,948.2L910.2,939.7L912.9,930.9L915.8,921.8L918.7,912.5L921.7,903.0L924.7,893.3L927.9,883.3L931.1,873.2L934.4,862.8L937.7,852.3L941.1,841.5L944.6,830.6L948.2,819.5L951.8,808.2L955.5,796.9L959.3,785.3L963.2,773.7L967.1,761.9L971.1,750.0L975.1,738.0L979.2,726.0L983.4,713.9L987.6,701.8L991.9,689.6L996.3,677.5L1000.8,665.3L1005.3,653.2L1009.8,641.1L1014.5,629.1L1019.2,617.2L1023.9,605.4L1028.7,593.6L1033.6,582.1L1038.5,570.6L1043.5,559.4L1048.6,548.3L1053.7,537.4L1058.9,526.7L1064.1,516.2L1069.4,506.0L1074.8,496.0L1080.2,486.3L1085.7,476.8L1091.2,467.6L1096.8,458.6L1102.5,449.9L1108.2,441.5L1114.0,433.4L1119.8,425.5L1125.7,418.0L1131.6,410.6L1137.6,403.6L1143.7,396.8L1149.8,390.3L1155.9,384.0L1162.1,378.0L1168.4,372.2L1174.7,366.6L1181.1,361.3L1187.6,356.2L1194.1,351.3L1200.6,346.6L1207.2,342.1L1213.9,337.9L1220.6,333.7L1227.3,329.8L1234.1,326.0L1241.0,322.4L1247.9,319.0L1254.9,315.7L1261.9,312.5L1269.0,309.5L1276.2,306.6L1283.3,303.8L1290.6,301.1L1297.9,298.5L1305.2,296.1L1312.6,293.7L1320.0,291.4L1327.5,289.3L1335.1,287.2L1342.7,285.1L1350.3,283.2L1358.0,281.3L1365.8,279.5L1373.6,277.8L1381.4,276.1L1389.3,274.5L1397.3,272.9L1405.3,271.4L1413.3,269.9L1421.4,268.5L1429.6,267.1L1437.8,265.8L1446.0,264.5L1454.3,263.2L1462.6,262.0L1471.0,260.8L1479.5,259.7L1488.0,258.5L1496.5,257.4L1505.1,256.3L1513.7,255.3L1522.4,254.3L1531.1,253.2L1539.9,252.3L1548.7,251.3L1557.6,250.3L1566.5,249.4L1575.5,248.5L1584.5,247.6L1593.6,246.7L1602.7,245.8L1611.9,245.0L1621.1,244.1L1630.3,243.3L1639.6,242.5L1649.0,241.7L1658.4,240.9L1667.8,240.1L1677.3,239.3L1686.8,238.5L1696.4,237.8L1706.0,237.0L1715.7,236.3L1725.4,235.5L1735.2,234.8L1745.0,234.0L1754.8,233.3L1764.7,232.6L1774.7,231.9L1784.6,231.2L1794.7,230.5L1804.8,229.8L1814.9,229.1L1825.1,228.4L1824.9,228.9L1824.5,230.0L1823.9,231.7L1823.2,233.7L1822.4,236.2L1821.4,239.1L1820.3,242.3L1819.1,245.8L1817.8,249.7L1816.4,253.9L1814.9,258.4L1813.2,263.2L1811.5,268.2L1809.7,273.6L1807.8,279.2L1805.8,285.1L1803.7,291.3L1801.5,297.7L1799.3,304.4L1796.9,311.3L1794.5,318.5L1792.0,325.9L1789.4,333.5L1786.7,341.4L1783.9,349.6L1781.1,357.9L1778.2,366.5L1775.2,375.3L1772.1,384.3L1769.0,393.6L1765.8,403.0L1762.5,412.7L1759.1,422.6L1755.7,432.7L1752.2,443.0L1748.6,453.5L1745.0,464.2L1741.2,475.1L1737.5,486.1L1733.6,497.4L1729.7,508.8L1725.7,520.4L1721.6,532.2L1717.5,544.1L1713.3,556.2L1709.1,568.4L1704.8,580.7L1700.4,593.2L1695.9,605.7L1691.4,618.3L1686.8,631.1L1682.2,643.8L1677.5,656.6L1672.7,669.4L1667.9,682.2L1663.0,695.0L1658.1,707.7L1653.1,720.4L1648.0,732.9L1642.9,745.3L1637.7,757.5L1632.4,769.5L1627.1,781.3L1621.7,792.9L1616.3,804.1L1610.8,815.1L1605.3,825.8L1599.7,836.1L1594.0,846.1L1588.3,855.6L1582.5,864.8L1576.7,873.6L1570.8,882.1L1564.8,890.1L1558.8,897.7L1552.8,904.9L1546.6,911.8L1540.5,918.2L1534.2,924.3L1527.9,930.1L1521.6,935.5L1515.2,940.6L1508.8,945.4L1502.3,949.9L1495.7,954.1L1489.1,958.1L1482.4,961.8L1475.7,965.3L1468.9,968.6L1462.1,971.7L1455.2,974.6L1448.3,977.4L1441.3,979.9L1434.2,982.4L1427.1,984.7L1420.0,986.9L1412.8,989.0L1405.5,991.0L1398.2,992.9L1390.9,994.7L1383.5,996.4L1376.0,998.1L1368.5,999.7L1361.0,1001.2L1353.3,1002.7L1345.7,1004.1L1338.0,1005.5L1330.2,1006.8L1322.4,1008.1L1314.5,1009.4L1306.6,1010.6L1298.6,1011.8L1290.6,1013.0L1282.6,1014.1L1274.4,1015.3L1266.3,1016.4L1258.1,1017.5L1249.8,1018.5L1241.5,1019.6L1233.1,1020.7L1224.7,1021.7L1216.3,1022.7L1207.8,1023.8L1199.2,1024.8L1190.6,1025.8L1181.9,1026.8L1173.2,1027.8L1164.5,1028.7L1155.7,1029.7L1146.8,1030.7L1138.0,1031.7L1129.0,1032.7L1120.0,1033.6L1111.0,1034.6L1101.9,1035.6L1092.8,1036.5L1083.6,1037.5L1074.4,1038.5L1065.1,1039.4L1055.8,1040.4L1046.4,1041.4L1037.0,1042.4L1027.6,1043.3L1018.1,1044.3L1008.5,1045.3L998.9,1046.3L989.3,1047.2L979.6,1048.2L969.8,1049.2L960.1,1050.2L950.2,1051.2L940.4,1052.2L930.4,1053.2L920.5,1054.2L910.5,1055.2L900.4,1056.2L890.3,1057.2L880.2,1058.2L870.0,1059.2L870.2,1058.6L870.6,1057.4L871.1,1055.6L871.8,1053.3L872.7,1050.6L873.6,1047.5L874.7,1044.0L875.9,1040.1L877.2,1035.9L878.7,1031.3L880.2,1026.4L881.8,1021.1L883.5,1015.6L885.4,1009.7L887.3,1003.6L889.3,997.1L891.4,990.4L893.6,983.4L895.8,976.1L898.2,968.5L900.6,960.7L903.1,952.6L905.7,944.3L908.4,935.7L911.2,926.8L914.0,917.8L916.9,908.4L919.9,898.9L923.0,889.1L926.1,879.1L929.4,869.0L932.7,858.6L936.0,848.0L939.5,837.2L943.0,826.3L946.6,815.1L950.2,803.9L953.9,792.5L957.7,780.9L961.6,769.2L965.5,757.4L969.5,745.6L973.6,733.6L977.7,721.6L981.9,709.5L986.1,697.4L990.5,685.2L994.8,673.1L999.3,661.0L1003.8,648.9L1008.4,636.9L1013.0,624.9L1017.8,613.0L1022.5,601.2L1027.4,589.6L1032.3,578.1L1037.2,566.8L1042.2,555.6L1047.3,544.6L1052.5,533.8L1057.6,523.3L1062.9,512.9L1068.2,502.8L1073.6,493.0L1079.0,483.4L1084.5,474.0L1090.1,465.0L1095.7,456.2L1101.4,447.6L1107.1,439.4L1112.9,431.4L1118.7,423.7L1124.6,416.3L1130.6,409.1L1136.6,402.2L1142.7,395.6L1148.8,389.2L1155.0,383.1L1161.2,377.2L1167.5,371.6L1173.9,366.2L1180.3,361.0L1186.8,356.0L1193.3,351.3L1199.8,346.7L1206.5,342.4L1213.1,338.2L1219.9,334.2L1226.7,330.4L1233.5,326.8L1240.4,323.3L1247.3,319.9L1254.3,316.7L1261.4,313.6L1268.5,310.7L1275.7,307.9L1282.9,305.2L1290.1,302.6L1297.4,300.1L1304.8,297.7L1312.2,295.4L1319.7,293.2L1327.2,291.1L1334.8,289.1L1342.4,287.1L1350.1,285.3L1357.8,283.4L1365.6,281.7L1373.4,280.0L1381.3,278.4L1389.2,276.8L1397.2,275.3L1405.2,273.8L1413.3,272.4L1421.4,271.0L1429.6,269.7L1437.8,268.4L1446.1,267.1L1454.4,265.9L1462.8,264.7L1471.2,263.5L1479.7,262.4L1488.2,261.3L1496.8,260.2L1505.4,259.1L1514.1,258.1L1522.8,257.1L1531.5,256.1L1540.4,255.2L1549.2,254.2L1558.1,253.3L1567.1,252.4L1576.1,251.5L1585.1,250.6L1594.2,249.7L1603.4,248.9L1612.6,248.0L1621.8,247.2L1631.1,246.4L1640.4,245.6L1649.8,244.8L1659.2,244.0L1668.7,243.2L1678.2,242.4L1687.8,241.7L1697.4,240.9L1707.0,240.2L1716.7,239.4L1726.5,238.7L1736.3,238.0L1746.1,237.2L1756.0,236.5L1765.9,235.8L1775.9,235.1L1785.9,234.4L1796.0,233.7L1806.1,233.0L1816.3,232.3L1826.5,231.6L1826.3,232.1L1825.9,233.2L1825.4,234.9L1824.7,237.0L1823.8,239.4L1822.9,242.3L1821.8,245.5L1820.6,249.0L1819.2,252.9L1817.8,257.1L1816.3,261.6L1814.7,266.4L1813.0,271.5L1811.1,276.8L1809.2,282.4L1807.2,288.3L1805.1,294.5L1803.0,300.9L1800.7,307.6L1798.3,314.5L1795.9,321.7L1793.4,329.1L1790.8,336.8L1788.1,344.7L1785.4,352.8L1782.5,361.1L1779.6,369.7L1776.6,378.5L1773.6,387.6L1770.4,396.8L1767.2,406.3L1763.9,415.9L1760.5,425.8L1757.1,435.9L1753.6,446.2L1750.0,456.7L1746.4,467.4L1742.7,478.3L1738.9,489.3L1735.0,500.6L1731.1,512.0L1727.1,523.6L1723.1,535.4L1719.0,547.3L1714.8,559.3L1710.5,571.5L1706.2,583.8L1701.8,596.3L1697.4,608.8L1692.9,621.4L1688.3,634.1L1683.6,646.8L1678.9,659.6L1674.2,672.4L1669.4,685.1L1664.5,697.8L1659.5,710.5L1654.5,723.1L1649.4,735.5L1644.3,747.8L1639.1,759.9L1633.9,771.8L1628.5,783.5L1623.2,795.0L1617.7,806.1L1612.3,816.9L1606.7,827.5L1601.1,837.6L1595.4,847.4L1589.7,856.8L1583.9,865.9L1578.1,874.5L1572.2,882.8L1566.3,890.6L1560.3,898.0L1554.2,905.1L1548.1,911.8L1541.9,918.1L1535.7,924.0L1529.4,929.6L1523.0,934.9L1516.6,939.9L1510.2,944.5L1503.7,948.9L1497.1,953.0L1490.5,956.8L1483.8,960.4L1477.1,963.8L1470.3,967.0L1463.5,970.1L1456.6,972.9L1449.7,975.6L1442.7,978.1L1435.7,980.5L1428.6,982.7L1421.4,984.9L1414.2,986.9L1407.0,988.8L1399.7,990.7L1392.3,992.4L1384.9,994.1L1377.5,995.7L1369.9,997.3L1362.4,998.8L1354.8,1000.2L1347.1,1001.6L1339.4,1003.0L1331.6,1004.3L1323.8,1005.6L1316.0,1006.8L1308.0,1008.0L1300.1,1009.2L1292.1,1010.3L1284.0,1011.5L1275.9,1012.6L1267.7,1013.7L1259.5,1014.8L1251.2,1015.8L1242.9,1016.9L1234.6,1017.9L1226.2,1019.0L1217.7,1020.0L1209.2,1021.0L1200.6,1022.0L1192.0,1023.0L1183.4,1024.0L1174.7,1025.0L1165.9,1026.0L1157.1,1026.9L1148.3,1027.9L1139.4,1028.9L1130.4,1029.9L1121.5,1030.8L1112.4,1031.8L1103.3,1032.8L1094.2,1033.7L1085.0,1034.7L1075.8,1035.7L1066.5,1036.6L1057.2,1037.6L1047.9,1038.6L1038.4,1039.5L1029.0,1040.5L1019.5,1041.5L1009.9,1042.4L1000.3,1043.4L990.7,1044.4L981.0,1045.4L971.3,1046.4L961.5,1047.3L951.7,1048.3L941.8,1049.3L931.9,1050.3L921.9,1051.3L911.9,1052.3L901.9,1053.3L891.8,1054.3L881.6,1055.3L871.4,1056.3" stroke="#0000ff" stroke-width="4.8" stroke-dasharray="22 10"/>
<path d="M1350.2,645.8L1351.3,641.8L1353.0,636.1L1355.0,629.4L1357.2,622.1L1359.6,614.2L1362.1,605.9L1364.7,597.3L1367.5,588.3L1370.4,579.0L1373.3,569.6L1376.4,559.9L1379.5,550.0L1382.8,540.0L1386.1,529.8L1389.4,519.5L1392.9,509.1L1396.4,498.6L1399.9,488.1L1403.6,477.5L1407.3,466.8L1411.0,456.1L1414.8,445.4L1418.6,434.6L1422.5,423.9L1426.5,413.1L1430.5,402.4L1434.5,391.7L1438.6,381.0L1442.7,370.3L1446.9,359.6L1451.1,349.0L1455.3,338.4L1459.6,327.9L1464.0,317.5L1468.3,307.1L1472.8,296.9L1477.2,286.9L1481.7,276.9L1486.2,267.1L1490.8,257.5L1495.3,248.3L1500.0,240.2L1504.6,232.9L1509.3,226.1L1514.0,220.3L1518.8,215.9L1523.5,212.1L1528.4,208.8L1533.2,205.9L1538.1,203.3L1543.0,200.9L1547.9,198.6L1552.9,196.3L1557.8,194.1L1562.9,192.0L1567.9,190.0L1573.0,188.2L1578.1,186.6L1583.2,185.3L1588.3,184.2L1593.5,183.5L1598.7,182.9L1603.9,182.4L1609.2,181.8L1614.5,181.3L1619.8,180.8L1625.1,180.3L1630.4,179.8L1635.8,179.4L1641.2,179.0L1646.6,178.6L1652.0,178.2L1657.5,177.8L1663.0,177.5L1668.5,177.2L1674.0,176.9L1679.6,176.6L1685.1,176.3L1690.7,176.1L1696.4,175.9L1702.0,175.7L1707.7,175.5L1713.3,175.4L1719.0,175.2L1724.7,175.1L1730.5,175.0L1736.2,175.0L1742.0,175.0L1747.8,174.9L1753.6,174.9L1759.5,174.9L1765.3,174.9L1771.2,174.8L1777.1,174.8L1783.0,174.8L1789.0,174.8L1794.9,174.7L1800.9,174.7L1806.9,174.7L1812.9,174.7L1818.9,174.6L1824.9,174.6L1831.0,174.6L1837.1,174.6L1843.2,174.6L1849.3,174.5L1855.4,174.5L1861.6,174.5L1867.7,174.5L1873.9,174.5L1880.1,174.5L1886.3,174.4L1892.6,174.4L1898.8,174.4L1905.1,174.4L1911.3,174.4L1917.6,174.4L1924.0,174.4L1930.3,174.4L1936.6,174.3L1943.0,174.3L1949.4,174.3L1955.8,174.3L1962.2,174.3L1968.6,174.3L1975.0,174.3L1981.5,174.3L1988.0,174.3L1994.4,174.3L2000.9,174.3L2007.5,174.3L2014.0,174.3L2020.5,174.3L2027.1,174.3L2033.7,174.3L2040.3,174.3L2046.9,174.3L2053.5,174.3L2060.1,174.3L2059.9,175.0L2059.3,176.7L2058.4,179.1L2057.4,182.2L2056.1,185.9L2054.7,190.1L2053.0,194.8L2051.2,200.1L2049.3,205.8L2047.1,212.0L2044.8,218.6L2042.4,225.7L2039.8,233.2L2037.1,241.1L2034.2,249.4L2031.2,258.2L2028.1,267.3L2024.8,276.7L2021.4,286.6L2017.9,296.8L2014.3,307.4L2010.5,318.3L2006.6,329.6L2002.6,341.2L1998.5,353.2L1994.2,365.5L1989.8,378.1L1985.4,390.9L1980.8,404.1L1976.0,417.6L1971.2,431.4L1966.3,445.4L1961.3,459.6L1956.1,474.1L1950.9,488.8L1945.5,503.7L1940.0,518.8L1934.5,534.1L1928.8,549.5L1923.0,565.0L1917.1,580.6L1911.2,596.3L1905.1,612.0L1898.9,627.7L1892.6,643.4L1886.2,659.1L1879.8,674.7L1873.2,690.1L1866.5,705.4L1859.8,720.6L1852.9,735.5L1846.0,750.2L1838.9,764.6L1831.8,778.7L1824.5,792.5L1817.2,805.9L1809.8,819.0L1802.3,831.7L1794.7,844.0L1787.0,855.9L1779.2,867.3L1771.3,878.4L1763.4,889.0L1755.3,899.1L1747.2,908.8L1738.9,918.1L1730.6,927.0L1722.2,935.4L1713.7,943.5L1705.1,951.1L1696.5,958.3L1687.7,965.2L1678.9,971.7L1670.0,977.9L1661.0,983.8L1651.9,989.3L1642.7,994.5L1633.4,999.5L1624.1,1004.2L1614.7,1008.6L1605.2,1012.8L1595.6,1016.7L1585.9,1020.5L1576.2,1024.0L1566.3,1027.4L1556.4,1030.5L1546.4,1033.5L1536.3,1036.4L1526.2,1039.1L1515.9,1041.7L1505.6,1044.1L1495.2,1046.4L1484.7,1048.6L1474.2,1050.7L1463.5,1052.7L1452.8,1054.7L1442.0,1056.5L1431.2,1058.2L1420.2,1059.9L1409.2,1061.5L1398.1,1063.0L1386.9,1064.5L1375.6,1065.9L1364.3,1067.3L1352.9,1068.6L1341.4,1069.9L1329.8,1071.1L1318.2,1072.3L1306.5,1073.5L1294.7,1074.6L1282.8,1075.7L1270.9,1076.8L1258.9,1077.8L1246.8,1078.8L1234.6,1079.8L1222.4,1080.7L1210.1,1081.7L1197.7,1082.6L1185.2,1083.5L1172.7,1084.4L1160.1,1085.2L1147.4,1086.1L1134.6,1086.9L1121.8,1087.7L1108.9,1088.6L1095.9,1089.4L1082.9,1090.1L1069.8,1090.9L1056.6,1091.7L1043.3,1092.5L1030.0,1093.2L1016.6,1094.0L1003.1,1094.7L989.6,1095.4L975.9,1096.2L962.3,1096.9L948.5,1097.6L934.7,1098.3L920.8,1099.1L906.8,1099.8L892.8,1100.5L878.7,1101.2L864.5,1101.9L850.2,1102.6L835.9,1103.3L821.5,1104.0L807.1,1104.7L792.5,1105.4L777.9,1106.1L763.3,1106.7L748.5,1107.4L733.7,1108.1L718.9,1108.8L703.9,1109.5L688.9,1110.2L673.9,1110.9L658.7,1111.6L643.5,1112.3L628.2,1112.9L628.5,1112.2L629.1,1110.5L629.9,1108.0L631.0,1104.9L632.2,1101.2L633.7,1096.9L635.3,1092.1L637.1,1086.8L639.1,1081.0L641.2,1074.8L643.5,1068.1L646.0,1060.9L648.5,1053.3L651.3,1045.3L654.1,1036.9L657.1,1028.1L660.3,1018.9L663.6,1009.3L667.0,999.3L670.5,989.0L674.1,978.3L677.9,967.2L681.8,955.8L685.8,944.0L690.0,931.9L694.2,919.5L698.6,906.8L703.1,893.8L707.7,880.4L712.4,866.8L717.2,852.9L722.2,838.7L727.2,824.3L732.3,809.6L737.6,794.8L743.0,779.7L748.4,764.4L754.0,749.0L759.7,733.4L765.5,717.8L771.4,702.0L777.3,686.1L783.4,670.3L789.6,654.4L795.9,638.6L802.3,622.8L808.8,607.1L815.3,591.5L822.0,576.1L828.8,560.9L835.7,545.9L842.6,531.1L849.7,516.7L856.8,502.5L864.1,488.7L871.4,475.3L878.8,462.2L886.3,449.6L894.0,437.3L901.7,425.5L909.4,414.1L917.3,403.2L925.3,392.7L933.4,382.7L941.5,373.1L949.7,364.0L958.1,355.3L966.5,347.0L975.0,339.1L983.6,331.7L992.2,324.6L1001.0,317.9L1009.8,311.6L1018.8,305.6L1027.8,300.0L1036.9,294.6L1046.1,289.6L1055.3,284.9L1064.7,280.4L1074.1,276.1L1083.6,272.2L1093.2,268.4L1102.9,264.9L1112.7,261.5L1122.5,258.4L1132.5,255.4L1142.5,252.5L1152.5,249.9L1162.7,247.4L1173.0,245.0L1183.3,242.7L1193.7,240.6L1204.2,238.5L1214.8,236.6L1225.4,234.8L1236.1,233.0L1246.9,231.4L1257.8,229.8L1268.8,228.3L1279.8,226.9L1290.9,225.5L1302.1,224.2L1313.4,222.9L1324.7,221.7L1336.2,220.5L1347.7,219.4L1359.2,218.3L1370.9,217.3L1382.6,216.3L1394.4,215.3L1406.3,214.4L1418.3,213.4L1430.3,212.6L1442.4,211.7L1454.6,210.9L1466.8,210.1L1479.1,209.3L1491.5,208.5L1504.0,207.8L1516.6,207.0L1529.2,206.3L1541.9,205.6L1554.7,204.9L1567.5,204.2L1580.4,203.6L1593.4,202.9L1606.4,202.3L1619.6,201.6L1632.8,201.0L1646.1,200.4L1659.4,199.8L1672.8,199.2L1686.3,198.6L1699.9,198.0L1713.5,197.4L1727.2,196.8L1741.0,196.3L1754.8,195.7L1768.7,195.1L1782.7,194.6L1796.8,194.0L1810.9,193.4L1825.1,192.9L1839.3,192.3L1853.7,191.8L1868.1,191.2L1882.5,190.7L1897.1,190.2L1911.7,189.6L1926.4,189.1L1941.1,188.6L1955.9,188.0L1970.8,187.5L1985.8,186.9L2000.8,186.4L2015.9,185.9L2031.0,185.3L2046.3,184.8L2061.5,184.3L2061.3,185.0L2060.7,186.7L2059.9,189.2L2058.8,192.3L2057.5,195.9L2056.1,200.2L2054.5,204.9L2052.6,210.2L2050.7,215.9L2048.5,222.1L2046.2,228.8L2043.8,235.8L2041.2,243.4L2038.5,251.3L2035.6,259.6L2032.6,268.4L2029.5,277.5L2026.2,287.0L2022.8,296.9L2019.3,307.1L2015.6,317.7L2011.8,328.7L2007.9,340.0L2003.9,351.6L1999.8,363.6L1995.5,375.9L1991.1,388.5L1986.6,401.4L1982.0,414.6L1977.3,428.0L1972.5,441.8L1967.5,455.8L1962.5,470.1L1957.3,484.6L1952.1,499.3L1946.7,514.1L1941.2,529.2L1935.6,544.4L1930.0,559.8L1924.2,575.2L1918.3,590.8L1912.3,606.3L1906.2,622.0L1900.0,637.6L1893.7,653.1L1887.3,668.6L1880.8,684.0L1874.3,699.3L1867.6,714.3L1860.8,729.2L1853.9,743.9L1847.0,758.3L1839.9,772.4L1832.7,786.2L1825.5,799.6L1818.2,812.7L1810.7,825.4L1803.2,837.7L1795.6,849.5L1787.9,861.0L1780.1,872.0L1772.2,882.6L1764.2,892.7L1756.1,902.5L1748.0,911.7L1739.7,920.6L1731.4,929.0L1723.0,937.0L1714.5,944.6L1705.9,951.8L1697.2,958.7L1688.4,965.2L1679.6,971.3L1670.6,977.1L1661.6,982.6L1652.5,987.8L1643.3,992.7L1634.0,997.3L1624.7,1001.7L1615.2,1005.8L1605.7,1009.7L1596.1,1013.4L1586.4,1016.9L1576.6,1020.2L1566.8,1023.4L1556.8,1026.3L1546.8,1029.1L1536.7,1031.8L1526.5,1034.3L1516.3,1036.7L1505.9,1039.0L1495.5,1041.1L1485.0,1043.2L1474.4,1045.2L1463.8,1047.0L1453.1,1048.8L1442.2,1050.5L1431.3,1052.2L1420.4,1053.7L1409.3,1055.3L1398.2,1056.7L1387.0,1058.1L1375.7,1059.4L1364.4,1060.7L1352.9,1062.0L1341.4,1063.2L1329.8,1064.3L1318.2,1065.5L1306.4,1066.6L1294.6,1067.6L1282.7,1068.7L1270.7,1069.7L1258.7,1070.7L1246.6,1071.6L1234.4,1072.6L1222.1,1073.5L1209.8,1074.4L1197.4,1075.3L1184.9,1076.1L1172.3,1077.0L1159.7,1077.8L1147.0,1078.6L1134.2,1079.5L1121.4,1080.3L1108.4,1081.0L1095.4,1081.8L1082.4,1082.6L1069.2,1083.3L1056.0,1084.1L1042.7,1084.8L1029.4,1085.6L1015.9,1086.3L1002.4,1087.0L988.9,1087.8L975.2,1088.5L961.5,1089.2L947.7,1089.9L933.8,1090.6L919.9,1091.3L905.9,1092.0L891.9,1092.7L877.7,1093.4L863.5,1094.1L849.2,1094.8L834.9,1095.5L820.5,1096.2L806.0,1096.9L791.4,1097.5L776.8,1098.2L762.1,1098.9L747.4,1099.6L732.5,1100.3L717.6,1101.0L702.7,1101.6L687.6,1102.3L672.5,1103.0L657.4,1103.7L642.1,1104.4L626.8,1105.1L627.1,1104.3L627.6,1102.6L628.5,1100.1L629.5,1097.0L630.8,1093.3L632.3,1089.1L633.9,1084.3L635.7,1079.0L637.7,1073.2L639.8,1066.9L642.1,1060.2L644.5,1053.1L647.1,1045.5L649.8,1037.5L652.7,1029.1L655.7,1020.3L658.8,1011.1L662.1,1001.5L665.5,991.5L669.0,981.2L672.7,970.5L676.4,959.5L680.3,948.1L684.3,936.3L688.5,924.3L692.7,911.9L697.1,899.1L701.6,886.1L706.2,872.8L710.9,859.2L715.7,845.3L720.6,831.2L725.7,816.8L730.8,802.2L736.1,787.3L741.4,772.3L746.9,757.1L752.5,741.7L758.1,726.2L763.9,710.6L769.8,695.0L775.8,679.2L781.8,663.5L788.0,647.7L794.3,632.0L800.7,616.3L807.1,600.8L813.7,585.4L820.4,570.2L827.2,555.1L834.0,540.3L841.0,525.8L848.0,511.6L855.2,497.7L862.4,484.2L869.7,471.0L877.1,458.2L884.7,445.8L892.3,433.9L899.9,422.4L907.7,411.3L915.6,400.7L923.6,390.6L931.6,380.8L939.8,371.6L948.0,362.7L956.3,354.3L964.7,346.4L973.2,338.8L981.8,331.6L990.4,324.8L999.2,318.4L1008.0,312.4L1016.9,306.6L1026.0,301.2L1035.0,296.1L1044.2,291.3L1053.5,286.8L1062.8,282.5L1072.2,278.5L1081.7,274.7L1091.3,271.1L1101.0,267.7L1110.8,264.5L1120.6,261.5L1130.5,258.7L1140.5,256.0L1150.6,253.4L1160.7,251.0L1171.0,248.8L1181.3,246.6L1191.7,244.6L1202.2,242.6L1212.7,240.8L1223.4,239.0L1234.1,237.4L1244.9,235.8L1255.8,234.3L1266.7,232.8L1277.7,231.5L1288.8,230.2L1300.0,228.9L1311.3,227.7L1322.6,226.5L1334.0,225.4L1345.5,224.3L1357.1,223.3L1368.7,222.3L1380.4,221.3L1392.2,220.4L1404.1,219.5L1416.0,218.6L1428.0,217.8L1440.1,216.9L1452.3,216.1L1464.5,215.3L1476.9,214.6L1489.2,213.8L1501.7,213.1L1514.2,212.4L1526.9,211.7L1539.5,211.0L1552.3,210.3L1565.1,209.7L1578.0,209.0L1591.0,208.4L1604.0,207.8L1617.2,207.1L1630.3,206.5L1643.6,205.9L1656.9,205.3L1670.3,204.7L1683.8,204.1L1697.4,203.6L1711.0,203.0L1724.7,202.4L1738.4,201.9L1752.3,201.3L1766.2,200.7L1780.1,200.2L1794.2,199.6L1808.3,199.1L1822.4,198.5L1836.7,198.0L1851.0,197.5L1865.4,196.9L1879.9,196.4L1894.4,195.8L1909.0,195.3L1923.6,194.8L1938.4,194.2L1953.2,193.7L1968.0,193.2L1983.0,192.7L1998.0,192.1L2013.1,191.6L2028.2,191.1L2043.4,190.5L2058.7,190.0L2058.4,190.8L2057.8,192.5L2057.0,194.9L2056.0,198.0L2054.7,201.6L2053.2,205.8L2051.6,210.6L2049.8,215.8L2047.8,221.5L2045.7,227.7L2043.4,234.3L2041.0,241.4L2038.4,248.9L2035.7,256.8L2032.9,265.1L2029.9,273.8L2026.7,282.9L2023.5,292.3L2020.1,302.2L2016.6,312.4L2012.9,322.9L2009.1,333.9L2005.3,345.1L2001.2,356.7L1997.1,368.6L1992.9,380.9L1988.5,393.4L1984.0,406.3L1979.5,419.4L1974.8,432.9L1969.9,446.6L1965.0,460.5L1960.0,474.7L1954.9,489.1L1949.6,503.8L1944.3,518.6L1938.8,533.6L1933.2,548.7L1927.6,564.0L1921.8,579.3L1915.9,594.8L1910.0,610.2L1903.9,625.7L1897.7,641.2L1891.5,656.7L1885.1,672.1L1878.6,687.3L1872.1,702.4L1865.4,717.4L1858.7,732.1L1851.8,746.6L1844.9,760.8L1837.8,774.8L1830.7,788.4L1823.5,801.6L1816.2,814.5L1808.8,827.0L1801.3,839.1L1793.7,850.8L1786.0,862.1L1778.2,872.9L1770.4,883.3L1762.4,893.2L1754.4,902.7L1746.2,911.8L1738.0,920.5L1729.7,928.7L1721.3,936.5L1712.9,944.0L1704.3,951.0L1695.7,957.7L1686.9,964.0L1678.1,970.0L1669.2,975.7L1660.2,981.0L1651.1,986.1L1642.0,990.8L1632.7,995.3L1623.4,999.6L1614.0,1003.6L1604.5,1007.4L1594.9,1011.0L1585.3,1014.4L1575.5,1017.6L1565.7,1020.7L1555.8,1023.5L1545.8,1026.3L1535.8,1028.8L1525.6,1031.3L1515.4,1033.6L1505.1,1035.8L1494.7,1037.9L1484.3,1040.0L1473.7,1041.9L1463.1,1043.7L1452.4,1045.4L1441.6,1047.1L1430.8,1048.7L1419.9,1050.2L1408.8,1051.7L1397.8,1053.1L1386.6,1054.5L1375.4,1055.8L1364.0,1057.0L1352.6,1058.3L1341.2,1059.4L1329.6,1060.6L1318.0,1061.7L1306.3,1062.8L1294.5,1063.8L1282.7,1064.8L1270.8,1065.8L1258.8,1066.8L1246.7,1067.7L1234.6,1068.6L1222.3,1069.5L1210.0,1070.4L1197.7,1071.3L1185.2,1072.1L1172.7,1073.0L1160.1,1073.8L1147.5,1074.6L1134.7,1075.4L1121.9,1076.2L1109.1,1077.0L1096.1,1077.7L1083.1,1078.5L1070.0,1079.2L1056.8,1080.0L1043.6,1080.7L1030.3,1081.5L1016.9,1082.2L1003.4,1082.9L989.9,1083.6L976.3,1084.3L962.7,1085.0L948.9,1085.7L935.1,1086.4L921.2,1087.1L907.3,1087.8L893.3,1088.5L879.2,1089.2L865.0,1089.9L850.8,1090.6L836.5,1091.2L822.2,1091.9L807.7,1092.6L793.2,1093.3L778.6,1094.0L764.0,1094.7L749.3,1095.3L734.5,1096.0L719.7,1096.7L704.8,1097.4L689.8,1098.0L674.7,1098.7L659.6,1099.4L644.4,1100.1L629.2,1100.8L629.5,1100.0L630.0,1098.3L630.9,1095.8L631.9,1092.7L633.2,1089.0L634.6,1084.8L636.3,1080.0L638.1,1074.7L640.0,1068.9L642.2,1062.6L644.5,1055.9L646.9,1048.8L649.5,1041.2L652.2,1033.2L655.1,1024.8L658.1,1016.0L661.2,1006.8L664.5,997.2L667.9,987.3L671.4,976.9L675.0,966.3L678.8,955.2L682.7,943.8L686.7,932.1L690.8,920.0L695.1,907.6L699.5,894.9L703.9,881.9L708.5,868.6L713.2,855.0L718.1,841.2L723.0,827.0L728.0,812.7L733.2,798.1L738.4,783.2L743.8,768.2L749.2,753.1L754.8,737.7L760.5,722.3L766.2,706.7L772.1,691.1L778.1,675.4L784.2,659.7L790.4,644.0L796.6,628.4L803.0,612.8L809.5,597.3L816.0,582.0L822.7,566.9L829.5,552.0L836.3,537.3L843.3,523.0L850.3,508.9L857.5,495.1L864.7,481.7L872.0,468.7L879.4,456.1L887.0,443.9L894.6,432.2L902.2,420.8L910.0,410.0L917.9,399.5L925.9,389.6L933.9,380.0L942.0,370.9L950.3,362.3L958.6,354.1L967.0,346.3L975.5,338.9L984.1,331.9L992.7,325.2L1001.5,319.0L1010.3,313.1L1019.2,307.5L1028.2,302.2L1037.3,297.3L1046.5,292.6L1055.7,288.2L1065.1,284.0L1074.5,280.1L1084.0,276.4L1093.6,272.9L1103.2,269.6L1113.0,266.5L1122.8,263.6L1132.7,260.8L1142.7,258.2L1152.8,255.8L1163.0,253.4L1173.2,251.2L1183.5,249.1L1193.9,247.2L1204.4,245.3L1214.9,243.5L1225.6,241.8L1236.3,240.2L1247.1,238.6L1257.9,237.2L1268.9,235.8L1279.9,234.4L1291.0,233.1L1302.2,231.9L1313.4,230.7L1324.8,229.6L1336.2,228.5L1347.7,227.5L1359.2,226.4L1370.9,225.5L1382.6,224.5L1394.4,223.6L1406.2,222.7L1418.2,221.9L1430.2,221.0L1442.3,220.2L1454.4,219.4L1466.7,218.7L1479.0,217.9L1491.3,217.2L1503.8,216.5L1516.3,215.8L1528.9,215.1L1541.6,214.4L1554.4,213.7L1567.2,213.1L1580.1,212.5L1593.1,211.8L1606.1,211.2L1619.2,210.6L1632.4,210.0L1645.7,209.4L1659.0,208.8L1672.4,208.2L1685.9,207.6L1699.4,207.1L1713.0,206.5L1726.7,205.9L1740.4,205.4L1754.3,204.8L1768.2,204.3L1782.1,203.7L1796.2,203.2L1810.3,202.6L1824.4,202.1L1838.7,201.5L1853.0,201.0L1867.4,200.5L1881.8,199.9L1896.4,199.4L1910.9,198.9L1925.6,198.3L1940.3,197.8L1955.1,197.3L1970.0,196.8L1984.9,196.2L1999.9,195.7L2015.0,195.2L2030.1,194.7L2045.3,194.1L2060.6,193.6L2060.3,194.4L2059.8,196.0L2058.9,198.5L2057.9,201.6L2056.6,205.2L2055.1,209.5L2053.5,214.2L2051.7,219.5L2049.7,225.2L2047.6,231.4L2045.3,238.0L2042.9,245.1L2040.3,252.6L2037.6,260.5L2034.7,268.9L2031.7,277.6L2028.6,286.7L2025.3,296.2L2021.9,306.1L2018.4,316.3L2014.7,326.9L2010.9,337.8L2007.0,349.1L2003.0,360.7L1998.9,372.7L1994.6,385.0L1990.2,397.5L1985.8,410.4L1981.2,423.6L1976.4,437.1L1971.6,450.8L1966.7,464.8L1961.6,479.0L1956.5,493.4L1951.2,508.1L1945.9,522.9L1940.4,537.9L1934.8,553.1L1929.1,568.3L1923.4,583.7L1917.5,599.1L1911.5,614.6L1905.4,630.1L1899.2,645.5L1892.9,660.9L1886.6,676.3L1880.1,691.5L1873.5,706.5L1866.8,721.4L1860.0,736.0L1853.2,750.4L1846.2,764.6L1839.2,778.4L1832.0,791.9L1824.8,805.0L1817.4,817.7L1810.0,830.1L1802.5,842.1L1794.9,853.6L1787.2,864.7L1779.4,875.3L1771.5,885.6L1763.5,895.3L1755.5,904.7L1747.3,913.6L1739.1,922.1L1730.8,930.1L1722.3,937.8L1713.9,945.1L1705.3,952.0L1696.6,958.5L1687.8,964.7L1679.0,970.5L1670.1,976.0L1661.0,981.3L1651.9,986.2L1642.8,990.8L1633.5,995.2L1624.1,999.4L1614.7,1003.3L1605.2,1007.0L1595.6,1010.5L1585.9,1013.8L1576.2,1016.9L1566.3,1019.9L1556.4,1022.7L1546.4,1025.3L1536.3,1027.8L1526.1,1030.2L1515.9,1032.5L1505.5,1034.6L1495.1,1036.7L1484.6,1038.6L1474.1,1040.5L1463.4,1042.3L1452.7,1044.0L1441.9,1045.6L1431.0,1047.2L1420.1,1048.6L1409.0,1050.1L1397.9,1051.5L1386.7,1052.8L1375.4,1054.1L1364.1,1055.3L1352.7,1056.5L1341.2,1057.6L1329.6,1058.8L1317.9,1059.8L1306.2,1060.9L1294.4,1061.9L1282.5,1062.9L1270.6,1063.9L1258.5,1064.8L1246.4,1065.8L1234.3,1066.7L1222.0,1067.6L1209.7,1068.4L1197.3,1069.3L1184.8,1070.1L1172.3,1071.0L1159.6,1071.8L1147.0,1072.6L1134.2,1073.4L1121.3,1074.1L1108.4,1074.9L1095.4,1075.7L1082.4,1076.4L1069.3,1077.2L1056.1,1077.9L1042.8,1078.6L1029.4,1079.4L1016.0,1080.1L1002.5,1080.8L989.0,1081.5L975.3,1082.2L961.6,1082.9L947.9,1083.6L934.0,1084.3L920.1,1085.0L906.1,1085.7L892.1,1086.4L877.9,1087.1L863.8,1087.7L849.5,1088.4L835.2,1089.1L820.8,1089.8L806.3,1090.5L791.7,1091.1L777.1,1091.8L762.5,1092.5L747.7,1093.2L732.9,1093.9L718.0,1094.5L703.1,1095.2L688.0,1095.9L673.0,1096.6L657.8,1097.3L642.6,1097.9L627.3,1098.6L627.5,1097.9L628.1,1096.1L629.0,1093.7L630.0,1090.6L631.3,1086.9L632.7,1082.6L634.4,1077.8L636.2,1072.5L638.2,1066.7L640.3,1060.4L642.6,1053.7L645.0,1046.6L647.6,1039.0L650.3,1031.0L653.2,1022.6L656.2,1013.7L659.3,1004.5L662.6,994.9L666.0,985.0L669.5,974.6L673.2,963.9L677.0,952.9L680.9,941.5L684.9,929.7L689.0,917.6L693.3,905.2L697.6,892.5L702.1,879.5L706.7,866.2L711.4,852.6L716.3,838.7L721.2,824.6L726.2,810.2L731.4,795.6L736.6,780.8L742.0,765.8L747.5,750.6L753.1,735.3L758.7,719.8L764.5,704.3L770.4,688.7L776.4,673.0L782.5,657.4L788.7,641.7L794.9,626.2L801.3,610.7L807.8,595.3L814.4,580.1L821.1,565.1L827.8,550.3L834.7,535.7L841.7,521.4L848.7,507.5L855.9,493.9L863.1,480.7L870.4,467.8L877.9,455.4L885.4,443.4L893.0,431.8L900.7,420.6L908.5,409.9L916.4,399.7L924.3,389.9L932.4,380.6L940.6,371.7L948.8,363.2L957.1,355.2L965.5,347.5L974.0,340.3L982.6,333.5L991.3,327.0L1000.0,320.9L1008.9,315.2L1017.8,309.7L1026.8,304.6L1035.9,299.8L1045.1,295.3L1054.4,291.0L1063.7,286.9L1073.2,283.1L1082.7,279.5L1092.3,276.2L1102.0,273.0L1111.7,270.0L1121.6,267.1L1131.5,264.5L1141.5,261.9L1151.6,259.5L1161.8,257.3L1172.0,255.1L1182.3,253.1L1192.7,251.2L1203.2,249.4L1213.8,247.6L1224.5,246.0L1235.2,244.4L1246.0,242.9L1256.9,241.5L1267.8,240.1L1278.9,238.8L1290.0,237.6L1301.2,236.4L1312.4,235.2L1323.8,234.1L1335.2,233.1L1346.7,232.1L1358.3,231.1L1369.9,230.1L1381.7,229.2L1393.5,228.3L1405.3,227.4L1417.3,226.6L1429.3,225.8L1441.4,225.0L1453.6,224.2L1465.9,223.5L1478.2,222.7L1490.6,222.0L1503.1,221.3L1515.6,220.6L1528.2,219.9L1540.9,219.3L1553.7,218.6L1566.5,218.0L1579.4,217.3L1592.4,216.7L1605.5,216.1L1618.6,215.5L1631.8,214.9L1645.1,214.3L1658.4,213.7L1671.9,213.1L1685.4,212.6L1698.9,212.0L1712.5,211.4L1726.2,210.9L1740.0,210.3L1753.9,209.8L1767.8,209.2L1781.8,208.7L1795.8,208.1L1809.9,207.6L1824.1,207.1L1838.4,206.5L1852.7,206.0L1867.1,205.5L1881.6,204.9L1896.1,204.4L1910.7,203.9L1925.4,203.3L1940.2,202.8L1955.0,202.3L1969.9,201.8L1984.8,201.2L1999.8,200.7L2014.9,200.2L2030.1,199.7L2045.3,199.1L2060.6,198.6" stroke="#ff0000" stroke-width="3.8"/>
<path d="M1350.2,645.8L1351.3,641.9L1353.0,636.2L1355.0,629.6L1357.2,622.3L1359.6,614.5L1362.1,606.3L1364.7,597.8L1367.5,588.9L1370.4,579.7L1373.3,570.4L1376.4,560.8L1379.5,551.1L1382.7,541.2L1386.0,531.1L1389.4,521.0L1392.8,510.8L1396.3,500.4L1399.9,490.1L1403.5,479.6L1407.2,469.2L1411.0,458.6L1414.7,448.1L1418.6,437.6L1422.5,427.1L1426.4,416.6L1430.4,406.1L1434.4,395.5L1438.5,384.6L1442.7,373.5L1446.8,362.3L1451.0,351.1L1455.3,339.9L1459.6,328.9L1463.9,318.2L1468.3,307.9L1472.7,298.2L1477.1,289.1L1481.6,280.7L1486.1,273.3L1490.7,266.9L1495.2,260.8L1499.9,255.2L1504.5,250.3L1509.2,246.5L1513.9,243.9L1518.7,241.8L1523.4,239.9L1528.2,238.3L1533.1,236.7L1537.9,235.4L1542.8,234.1L1547.8,233.0L1552.7,232.1L1557.7,231.2L1562.7,230.5L1567.8,229.8L1572.8,229.1L1577.9,228.5L1583.0,227.9L1588.2,227.3L1593.3,226.7L1598.5,226.2L1603.8,225.6L1609.0,225.1L1614.3,224.6L1619.6,224.1L1624.9,223.6L1630.2,223.1L1635.6,222.7L1641.0,222.3L1646.4,221.8L1651.8,221.4L1657.3,221.1L1662.8,220.7L1668.3,220.3L1673.8,220.0L1679.4,219.7L1684.9,219.4L1690.5,219.1L1696.1,218.8L1701.8,218.5L1707.4,218.3L1713.1,218.0L1718.8,217.8L1724.5,217.5L1730.2,217.3L1736.0,217.1L1741.8,216.9L1747.6,216.7L1753.4,216.5L1759.2,216.3L1765.1,216.1L1770.9,215.9L1776.8,215.7L1782.7,215.5L1788.7,215.3L1794.6,215.1L1800.6,214.9L1806.6,214.7L1812.6,214.5L1818.6,214.3L1824.6,214.1L1830.7,213.9L1836.7,213.8L1842.8,213.6L1848.9,213.4L1855.1,213.2L1861.2,213.1L1867.4,212.9L1873.6,212.7L1879.7,212.6L1886.0,212.4L1892.2,212.3L1898.4,212.1L1904.7,212.0L1911.0,211.8L1917.3,211.7L1923.6,211.6L1929.9,211.4L1936.2,211.3L1942.6,211.2L1949.0,211.1L1955.4,211.0L1961.8,210.9L1968.2,210.8L1974.6,210.7L1981.1,210.6L1987.5,210.5L1994.0,210.4L2000.5,210.4L2007.0,210.3L2013.5,210.3L2020.1,210.2L2026.6,210.2L2033.2,210.1L2039.8,210.1L2046.4,210.1L2053.0,210.1L2059.6,210.1L2059.4,210.9L2058.8,212.7L2058.0,215.3L2056.9,218.6L2055.6,222.6L2054.2,227.1L2052.6,232.3L2050.8,237.9L2048.8,244.1L2046.7,250.7L2044.4,257.9L2041.9,265.5L2039.4,273.6L2036.6,282.1L2033.8,291.1L2030.8,300.5L2027.6,310.3L2024.4,320.5L2021.0,331.1L2017.4,342.1L2013.8,353.5L2010.0,365.3L2006.1,377.4L2002.1,389.9L1998.0,402.7L1993.7,415.9L1989.4,429.3L1984.9,443.1L1980.3,457.2L1975.6,471.6L1970.7,486.2L1965.8,501.1L1960.8,516.2L1955.6,531.5L1950.4,546.9L1945.0,562.5L1939.6,578.2L1934.0,594.1L1928.3,609.9L1922.5,625.8L1916.7,641.7L1910.7,657.5L1904.6,673.2L1898.4,688.8L1892.1,704.2L1885.8,719.4L1879.3,734.4L1872.7,749.1L1866.1,763.4L1859.3,777.5L1852.4,791.1L1845.5,804.3L1838.4,817.1L1831.3,829.5L1824.1,841.4L1816.7,852.8L1809.3,863.7L1801.8,874.2L1794.2,884.1L1786.5,893.6L1778.7,902.6L1770.8,911.2L1762.9,919.3L1754.8,926.9L1746.7,934.2L1738.5,941.0L1730.1,947.4L1721.7,953.5L1713.2,959.2L1704.7,964.5L1696.0,969.6L1687.3,974.3L1678.4,978.8L1669.5,983.0L1660.5,986.9L1651.4,990.6L1642.2,994.1L1633.0,997.4L1623.6,1000.5L1614.2,1003.4L1604.7,1006.1L1595.1,1008.7L1585.4,1011.1L1575.7,1013.5L1565.8,1015.6L1555.9,1017.7L1545.9,1019.7L1535.9,1021.5L1525.7,1023.3L1515.5,1025.0L1505.1,1026.6L1494.7,1028.1L1484.3,1029.6L1473.7,1031.0L1463.1,1032.4L1452.4,1033.7L1441.6,1034.9L1430.7,1036.1L1419.7,1037.3L1408.7,1038.4L1397.6,1039.4L1386.4,1040.5L1375.2,1041.5L1363.8,1042.5L1352.4,1043.4L1340.9,1044.4L1329.4,1045.3L1317.7,1046.1L1306.0,1047.0L1294.2,1047.8L1282.4,1048.7L1270.4,1049.5L1258.4,1050.3L1246.3,1051.1L1234.1,1051.8L1221.9,1052.6L1209.6,1053.3L1197.2,1054.1L1184.7,1054.8L1172.2,1055.5L1159.6,1056.2L1146.9,1057.0L1134.2,1057.7L1121.3,1058.3L1108.4,1059.0L1095.5,1059.7L1082.4,1060.4L1069.3,1061.1L1056.1,1061.7L1042.8,1062.4L1029.5,1063.1L1016.1,1063.7L1002.6,1064.4L989.1,1065.1L975.5,1065.7L961.8,1066.4L948.0,1067.0L934.2,1067.7L920.3,1068.3L906.3,1069.0L892.3,1069.6L878.2,1070.3L864.0,1070.9L849.7,1071.6L835.4,1072.2L821.0,1072.9L806.6,1073.5L792.1,1074.2L777.5,1074.8L762.8,1075.5L748.1,1076.1L733.3,1076.8L718.4,1077.5L703.5,1078.1L688.5,1078.8L673.4,1079.4L658.2,1080.1L643.0,1080.8L627.8,1081.4L628.0,1080.6L628.6,1078.7L629.4,1076.1L630.5,1072.7L631.8,1068.7L633.2,1064.1L634.9,1059.0L636.7,1053.2L638.6,1047.0L640.8,1040.3L643.0,1033.0L645.5,1025.3L648.1,1017.1L650.8,1008.5L653.7,999.4L656.7,989.9L659.8,980.0L663.1,969.6L666.5,958.9L670.0,947.8L673.7,936.2L677.4,924.3L681.3,912.1L685.3,899.4L689.5,886.4L693.7,873.1L698.1,859.5L702.6,845.5L707.2,831.2L711.9,816.7L716.7,801.9L721.7,786.8L726.7,771.5L731.9,756.1L737.1,740.4L742.5,724.6L748.0,708.7L753.5,692.6L759.2,676.5L765.0,660.4L770.9,644.3L776.9,628.3L783.0,612.3L789.1,596.5L795.4,580.8L801.8,565.3L808.3,550.1L814.9,535.2L821.5,520.5L828.3,506.2L835.2,492.3L842.1,478.8L849.2,465.7L856.3,453.1L863.6,440.9L870.9,429.2L878.3,418.0L885.9,407.3L893.5,397.1L901.2,387.3L909.0,378.1L916.9,369.3L924.8,360.9L932.9,353.1L941.0,345.6L949.3,338.6L957.6,332.0L966.0,325.8L974.5,319.9L983.1,314.4L991.8,309.3L1000.5,304.4L1009.4,299.9L1018.3,295.6L1027.3,291.6L1036.4,287.8L1045.6,284.3L1054.9,281.0L1064.2,277.9L1073.6,274.9L1083.2,272.2L1092.8,269.6L1102.4,267.2L1112.2,264.9L1122.0,262.7L1132.0,260.7L1142.0,258.8L1152.1,257.0L1162.2,255.3L1172.5,253.6L1182.8,252.1L1193.2,250.7L1203.7,249.3L1214.3,248.0L1224.9,246.7L1235.7,245.5L1246.5,244.4L1257.3,243.3L1268.3,242.3L1279.3,241.3L1290.5,240.4L1301.6,239.5L1312.9,238.6L1324.3,237.8L1335.7,237.0L1347.2,236.2L1358.8,235.4L1370.4,234.7L1382.1,234.0L1393.9,233.3L1405.8,232.6L1417.8,232.0L1429.8,231.4L1441.9,230.8L1454.1,230.2L1466.3,229.6L1478.7,229.0L1491.1,228.5L1503.5,227.9L1516.1,227.4L1528.7,226.9L1541.4,226.3L1554.2,225.8L1567.0,225.3L1579.9,224.8L1592.9,224.4L1606.0,223.9L1619.1,223.4L1632.3,222.9L1645.6,222.5L1658.9,222.0L1672.3,221.6L1685.8,221.1L1699.4,220.7L1713.0,220.2L1726.7,219.8L1740.5,219.4L1754.3,218.9L1768.2,218.5L1782.2,218.1L1796.3,217.6L1810.4,217.2L1824.6,216.8L1838.9,216.4L1853.2,215.9L1867.6,215.5L1882.1,215.1L1896.6,214.7L1911.2,214.3L1925.9,213.8L1940.6,213.4L1955.5,213.0L1970.3,212.6L1985.3,212.2L2000.3,211.7L2015.4,211.3L2030.6,210.9L2045.8,210.5L2061.1,210.1L2060.8,210.9L2060.2,212.7L2059.4,215.3L2058.3,218.7L2057.1,222.6L2055.6,227.2L2054.0,232.3L2052.2,238.0L2050.2,244.1L2048.1,250.8L2045.8,258.0L2043.3,265.6L2040.7,273.7L2038.0,282.3L2035.1,291.2L2032.1,300.7L2029.0,310.5L2025.7,320.7L2022.3,331.3L2018.8,342.4L2015.1,353.8L2011.4,365.6L2007.5,377.7L2003.4,390.2L1999.3,403.1L1995.0,416.3L1990.6,429.8L1986.2,443.6L1981.6,457.7L1976.8,472.1L1972.0,486.7L1967.1,501.6L1962.0,516.7L1956.9,532.0L1951.6,547.5L1946.2,563.1L1940.8,578.9L1935.2,594.7L1929.5,610.6L1923.7,626.4L1917.8,642.3L1911.8,658.1L1905.7,673.8L1899.5,689.4L1893.2,704.8L1886.9,720.0L1880.4,734.9L1873.8,749.5L1867.1,763.9L1860.3,777.8L1853.5,791.4L1846.5,804.6L1839.4,817.3L1832.3,829.6L1825.0,841.4L1817.7,852.7L1810.2,863.6L1802.7,874.0L1795.1,883.9L1787.4,893.3L1779.6,902.2L1771.7,910.7L1763.7,918.7L1755.6,926.3L1747.5,933.4L1739.2,940.2L1730.9,946.5L1722.5,952.5L1714.0,958.2L1705.4,963.4L1696.7,968.4L1687.9,973.1L1679.1,977.5L1670.1,981.6L1661.1,985.5L1652.0,989.2L1642.8,992.6L1633.5,995.9L1624.2,998.9L1614.7,1001.8L1605.2,1004.5L1595.6,1007.0L1585.9,1009.4L1576.1,1011.7L1566.3,1013.9L1556.4,1015.9L1546.3,1017.9L1536.2,1019.7L1526.1,1021.5L1515.8,1023.1L1505.5,1024.7L1495.0,1026.2L1484.5,1027.7L1474.0,1029.1L1463.3,1030.4L1452.6,1031.7L1441.8,1032.9L1430.9,1034.1L1419.9,1035.2L1408.8,1036.3L1397.7,1037.4L1386.5,1038.4L1375.2,1039.4L1363.9,1040.4L1352.4,1041.4L1340.9,1042.3L1329.3,1043.2L1317.7,1044.1L1305.9,1044.9L1294.1,1045.8L1282.2,1046.6L1270.3,1047.4L1258.2,1048.2L1246.1,1049.0L1233.9,1049.7L1221.7,1050.5L1209.3,1051.2L1196.9,1052.0L1184.4,1052.7L1171.9,1053.4L1159.2,1054.1L1146.5,1054.8L1133.7,1055.5L1120.9,1056.2L1108.0,1056.9L1095.0,1057.6L1081.9,1058.3L1068.7,1058.9L1055.5,1059.6L1042.2,1060.3L1028.9,1060.9L1015.4,1061.6L1001.9,1062.2L988.4,1062.9L974.7,1063.6L961.0,1064.2L947.2,1064.9L933.4,1065.5L919.4,1066.2L905.4,1066.8L891.4,1067.5L877.2,1068.1L863.0,1068.8L848.8,1069.4L834.4,1070.1L820.0,1070.7L805.5,1071.4L791.0,1072.0L776.3,1072.7L761.6,1073.3L746.9,1074.0L732.0,1074.6L717.1,1075.3L702.2,1076.0L687.1,1076.6L672.0,1077.3L656.9,1077.9L641.6,1078.6L626.3,1079.3L626.6,1078.4L627.2,1076.6L628.0,1074.0L629.1,1070.6L630.3,1066.6L631.8,1062.0L633.4,1056.8L635.2,1051.1L637.2,1044.9L639.3,1038.1L641.6,1030.9L644.0,1023.2L646.6,1015.0L649.3,1006.4L652.2,997.3L655.2,987.9L658.3,977.9L661.6,967.6L665.0,956.9L668.5,945.7L672.2,934.2L675.9,922.3L679.8,910.1L683.9,897.5L688.0,884.5L692.2,871.2L696.6,857.5L701.1,843.6L705.7,829.4L710.4,814.8L715.2,800.1L720.1,785.0L725.2,769.8L730.3,754.3L735.6,738.7L740.9,722.9L746.4,707.0L752.0,691.0L757.7,675.0L763.4,658.9L769.3,642.9L775.3,626.9L781.4,611.0L787.5,595.2L793.8,579.6L800.2,564.2L806.7,549.1L813.2,534.2L819.9,519.7L826.7,505.5L833.5,491.7L840.5,478.2L847.5,465.3L854.7,452.8L861.9,440.7L869.2,429.1L876.7,418.0L884.2,407.4L891.8,397.3L899.5,387.7L907.3,378.5L915.1,369.8L923.1,361.6L931.1,353.9L939.3,346.5L947.5,339.6L955.8,333.1L964.2,327.0L972.7,321.2L981.3,315.8L990.0,310.7L998.7,305.9L1007.6,301.4L1016.5,297.2L1025.5,293.3L1034.6,289.6L1043.7,286.1L1053.0,282.9L1062.3,279.8L1071.8,276.9L1081.3,274.2L1090.9,271.7L1100.5,269.3L1110.3,267.1L1120.1,265.0L1130.0,263.0L1140.0,261.1L1150.1,259.3L1160.3,257.6L1170.5,256.0L1180.8,254.5L1191.2,253.1L1201.7,251.8L1212.3,250.5L1222.9,249.2L1233.6,248.1L1244.4,247.0L1255.3,245.9L1266.2,244.9L1277.3,243.9L1288.4,243.0L1299.5,242.1L1310.8,241.2L1322.1,240.4L1333.5,239.6L1345.0,238.8L1356.6,238.1L1368.2,237.4L1380.0,236.7L1391.7,236.0L1403.6,235.4L1415.6,234.7L1427.6,234.1L1439.7,233.5L1451.8,232.9L1464.1,232.3L1476.4,231.8L1488.8,231.2L1501.2,230.7L1513.8,230.2L1526.4,229.6L1539.1,229.1L1551.8,228.6L1564.6,228.1L1577.5,227.6L1590.5,227.2L1603.6,226.7L1616.7,226.2L1629.9,225.8L1643.1,225.3L1656.5,224.8L1669.9,224.4L1683.3,223.9L1696.9,223.5L1710.5,223.1L1724.2,222.6L1737.9,222.2L1751.8,221.8L1765.7,221.3L1779.6,220.9L1793.7,220.5L1807.8,220.0L1822.0,219.6L1836.2,219.2L1850.5,218.8L1864.9,218.4L1879.4,217.9L1893.9,217.5L1908.5,217.1L1923.2,216.7L1937.9,216.3L1952.7,215.9L1967.6,215.4L1982.5,215.0L1997.5,214.6L2012.6,214.2L2027.7,213.8L2042.9,213.4L2058.2,212.9L2057.9,213.8L2057.4,215.6L2056.5,218.2L2055.5,221.5L2054.2,225.4L2052.8,230.0L2051.1,235.1L2049.3,240.7L2047.4,246.9L2045.2,253.5L2043.0,260.7L2040.5,268.3L2038.0,276.4L2035.2,284.9L2032.4,293.8L2029.4,303.2L2026.2,313.0L2023.0,323.2L2019.6,333.8L2016.1,344.8L2012.4,356.1L2008.7,367.9L2004.8,380.0L2000.8,392.4L1996.6,405.2L1992.4,418.4L1988.0,431.8L1983.6,445.6L1979.0,459.6L1974.3,474.0L1969.5,488.6L1964.5,503.4L1959.5,518.4L1954.4,533.7L1949.1,549.1L1943.8,564.7L1938.3,580.3L1932.8,596.1L1927.1,611.9L1921.3,627.7L1915.5,643.5L1909.5,659.3L1903.4,674.9L1897.3,690.4L1891.0,705.7L1884.6,720.8L1878.2,735.7L1871.6,750.2L1864.9,764.5L1858.2,778.4L1851.3,791.9L1844.4,805.0L1837.4,817.6L1830.2,829.8L1823.0,841.6L1815.7,852.9L1808.3,863.6L1800.8,874.0L1793.2,883.8L1785.5,893.1L1777.7,902.0L1769.9,910.4L1761.9,918.4L1753.9,925.9L1745.8,933.0L1737.6,939.7L1729.3,946.0L1720.9,952.0L1712.4,957.5L1703.8,962.8L1695.2,967.7L1686.4,972.4L1677.6,976.8L1668.7,980.9L1659.7,984.7L1650.6,988.3L1641.5,991.7L1632.2,995.0L1622.9,998.0L1613.5,1000.8L1604.0,1003.5L1594.4,1006.0L1584.8,1008.4L1575.1,1010.7L1565.2,1012.8L1555.3,1014.9L1545.4,1016.8L1535.3,1018.6L1525.2,1020.4L1514.9,1022.0L1504.6,1023.6L1494.2,1025.1L1483.8,1026.5L1473.2,1027.9L1462.6,1029.2L1451.9,1030.5L1441.2,1031.7L1430.3,1032.9L1419.4,1034.0L1408.4,1035.1L1397.3,1036.2L1386.1,1037.2L1374.9,1038.2L1363.6,1039.2L1352.2,1040.1L1340.7,1041.0L1329.2,1041.9L1317.5,1042.8L1305.8,1043.6L1294.1,1044.5L1282.2,1045.3L1270.3,1046.1L1258.3,1046.9L1246.2,1047.7L1234.1,1048.4L1221.9,1049.2L1209.6,1049.9L1197.2,1050.6L1184.8,1051.4L1172.2,1052.1L1159.7,1052.8L1147.0,1053.5L1134.3,1054.2L1121.5,1054.9L1108.6,1055.6L1095.6,1056.2L1082.6,1056.9L1069.5,1057.6L1056.3,1058.2L1043.1,1058.9L1029.8,1059.6L1016.4,1060.2L1003.0,1060.9L989.4,1061.5L975.8,1062.2L962.2,1062.8L948.4,1063.5L934.6,1064.1L920.8,1064.8L906.8,1065.4L892.8,1066.1L878.7,1066.7L864.6,1067.4L850.3,1068.0L836.0,1068.7L821.7,1069.3L807.2,1070.0L792.7,1070.6L778.2,1071.3L763.5,1071.9L748.8,1072.6L734.0,1073.2L719.2,1073.9L704.3,1074.5L689.3,1075.2L674.3,1075.9L659.2,1076.5L644.0,1077.2L628.7,1077.8L629.0,1077.0L629.6,1075.2L630.4,1072.5L631.5,1069.2L632.7,1065.2L634.2,1060.6L635.8,1055.4L637.6,1049.7L639.6,1043.5L641.7,1036.7L644.0,1029.5L646.4,1021.8L649.0,1013.6L651.7,1005.0L654.6,995.9L657.6,986.5L660.7,976.5L664.0,966.2L667.4,955.5L670.9,944.4L674.5,932.8L678.3,921.0L682.2,908.7L686.2,896.1L690.4,883.1L694.6,869.8L699.0,856.2L703.5,842.3L708.1,828.0L712.8,813.5L717.6,798.7L722.5,783.7L727.5,768.5L732.7,753.0L737.9,737.4L743.3,721.7L748.8,705.8L754.3,689.8L760.0,673.8L765.8,657.8L771.6,641.8L777.6,625.8L783.7,610.0L789.9,594.2L796.2,578.7L802.5,563.3L809.0,548.3L815.6,533.5L822.2,519.0L829.0,504.9L835.9,491.1L842.8,477.8L849.9,464.9L857.0,452.5L864.2,440.5L871.5,429.0L879.0,418.0L886.5,407.5L894.1,397.4L901.8,387.9L909.5,378.8L917.4,370.2L925.4,362.1L933.4,354.4L941.6,347.2L949.8,340.3L958.1,333.9L966.5,327.8L975.0,322.1L983.6,316.8L992.2,311.8L1001.0,307.1L1009.8,302.6L1018.7,298.5L1027.7,294.6L1036.8,290.9L1046.0,287.5L1055.2,284.3L1064.6,281.3L1074.0,278.5L1083.5,275.8L1093.1,273.3L1102.8,270.9L1112.5,268.7L1122.3,266.6L1132.3,264.7L1142.3,262.8L1152.3,261.1L1162.5,259.4L1172.7,257.8L1183.0,256.3L1193.4,254.9L1203.9,253.6L1214.5,252.3L1225.1,251.1L1235.8,250.0L1246.6,248.9L1257.5,247.8L1268.4,246.8L1279.4,245.9L1290.5,244.9L1301.7,244.1L1313.0,243.2L1324.3,242.4L1335.7,241.6L1347.2,240.8L1358.7,240.1L1370.4,239.4L1382.1,238.7L1393.9,238.0L1405.7,237.4L1417.7,236.8L1429.7,236.2L1441.8,235.6L1453.9,235.0L1466.2,234.4L1478.5,233.8L1490.9,233.3L1503.3,232.8L1515.9,232.2L1528.5,231.7L1541.1,231.2L1553.9,230.7L1566.7,230.2L1579.6,229.7L1592.6,229.3L1605.6,228.8L1618.7,228.3L1631.9,227.9L1645.2,227.4L1658.5,227.0L1671.9,226.5L1685.4,226.1L1698.9,225.6L1712.5,225.2L1726.2,224.7L1740.0,224.3L1753.8,223.9L1767.7,223.4L1781.6,223.0L1795.7,222.6L1809.8,222.2L1824.0,221.8L1838.2,221.3L1852.5,220.9L1866.9,220.5L1881.4,220.1L1895.9,219.7L1910.5,219.2L1925.1,218.8L1939.8,218.4L1954.6,218.0L1969.5,217.6L1984.4,217.2L1999.4,216.8L2014.5,216.3L2029.6,215.9L2044.8,215.5L2060.1,215.1L2059.9,215.9L2059.3,217.7L2058.4,220.4L2057.4,223.7L2056.1,227.6L2054.7,232.2L2053.0,237.3L2051.2,243.0L2049.2,249.1L2047.1,255.8L2044.8,263.0L2042.4,270.6L2039.8,278.7L2037.1,287.2L2034.2,296.2L2031.2,305.6L2028.1,315.4L2024.8,325.6L2021.4,336.2L2017.9,347.3L2014.2,358.7L2010.4,370.4L2006.5,382.6L2002.5,395.0L1998.4,407.9L1994.1,421.1L1989.8,434.5L1985.3,448.3L1980.7,462.4L1976.0,476.8L1971.1,491.4L1966.2,506.3L1961.2,521.3L1956.0,536.6L1950.8,552.0L1945.4,567.6L1939.9,583.3L1934.3,599.1L1928.7,614.9L1922.9,630.7L1917.0,646.5L1911.0,662.2L1904.9,677.8L1898.7,693.3L1892.5,708.6L1886.1,723.6L1879.6,738.4L1873.0,752.9L1866.3,767.1L1859.6,780.9L1852.7,794.3L1845.7,807.3L1838.7,819.9L1831.5,832.0L1824.3,843.6L1817.0,854.8L1809.5,865.5L1802.0,875.7L1794.4,885.4L1786.7,894.6L1778.9,903.4L1771.0,911.7L1763.1,919.5L1755.0,926.9L1746.8,933.9L1738.6,940.5L1730.3,946.7L1721.9,952.6L1713.4,958.1L1704.8,963.2L1696.1,968.1L1687.4,972.6L1678.5,976.9L1669.6,980.9L1660.6,984.7L1651.5,988.3L1642.3,991.6L1633.0,994.8L1623.7,997.7L1614.2,1000.5L1604.7,1003.2L1595.1,1005.7L1585.4,1008.0L1575.7,1010.2L1565.8,1012.3L1555.9,1014.3L1545.9,1016.2L1535.8,1018.0L1525.6,1019.7L1515.4,1021.3L1505.1,1022.9L1494.7,1024.4L1484.2,1025.8L1473.6,1027.1L1463.0,1028.4L1452.2,1029.7L1441.4,1030.9L1430.5,1032.0L1419.6,1033.2L1408.5,1034.2L1397.4,1035.3L1386.2,1036.3L1375.0,1037.3L1363.6,1038.2L1352.2,1039.2L1340.7,1040.1L1329.1,1041.0L1317.5,1041.8L1305.7,1042.7L1293.9,1043.5L1282.1,1044.3L1270.1,1045.1L1258.1,1045.9L1246.0,1046.6L1233.8,1047.4L1221.5,1048.1L1209.2,1048.9L1196.8,1049.6L1184.3,1050.3L1171.8,1051.0L1159.2,1051.7L1146.5,1052.4L1133.7,1053.1L1120.9,1053.8L1108.0,1054.5L1095.0,1055.2L1081.9,1055.8L1068.8,1056.5L1055.6,1057.2L1042.3,1057.8L1029.0,1058.5L1015.5,1059.2L1002.1,1059.8L988.5,1060.5L974.9,1061.1L961.2,1061.8L947.4,1062.4L933.5,1063.1L919.6,1063.7L905.6,1064.4L891.6,1065.0L877.5,1065.7L863.3,1066.3L849.0,1067.0L834.7,1067.6L820.3,1068.2L805.8,1068.9L791.3,1069.5L776.7,1070.2L762.0,1070.8L747.2,1071.5L732.4,1072.2L717.5,1072.8L702.6,1073.5L687.6,1074.1L672.5,1074.8L657.3,1075.4L642.1,1076.1L626.8,1076.8L627.1,1075.9L627.6,1074.1L628.5,1071.4L629.5,1068.1L630.8,1064.1L632.3,1059.5L633.9,1054.3L635.7,1048.6L637.7,1042.3L639.8,1035.6L642.1,1028.4L644.5,1020.6L647.1,1012.5L649.8,1003.8L652.7,994.8L655.7,985.3L658.8,975.3L662.1,965.0L665.5,954.2L669.0,943.1L672.7,931.6L676.5,919.7L680.4,907.4L684.4,894.8L688.5,881.8L692.8,868.5L697.2,854.8L701.6,840.9L706.2,826.6L711.0,812.1L715.8,797.3L720.7,782.3L725.8,767.0L730.9,751.6L736.2,735.9L741.5,720.2L747.0,704.3L752.6,688.3L758.3,672.3L764.0,656.3L769.9,640.3L775.9,624.3L782.0,608.4L788.2,592.7L794.5,577.2L800.8,561.9L807.3,546.8L813.9,532.0L820.6,517.6L827.4,503.5L834.2,489.8L841.2,476.5L848.2,463.6L855.4,451.2L862.6,439.3L870.0,427.8L877.4,416.9L884.9,406.4L892.5,396.4L900.2,386.9L908.0,377.9L915.9,369.3L923.9,361.2" stroke="#ff0000" stroke-width="3.8" stroke-dasharray="22 10"/>
</g>
<path d="M390,69.5H2307M391.5,68V1224" stroke="#c4c4c4" stroke-width="3" fill="none"/>
<path d="M390,1222.3H2307" stroke="#b8b8b8" stroke-width="2.6" fill="none"/>
<rect x="394.65" y="72.55" width="1911.05" height="1146.5" fill="none" stroke="#000" stroke-width="2.9"/>
<rect x="1822.7" y="879.55" width="461.7" height="323.9" fill="#fff" stroke="#1a1a1a" stroke-width="2.9"/>
<path d="M1825.4,881.5V1200.5M1825,882.2H2282.5M1825,1200.4H2282.5" stroke="#b4b4b4" stroke-width="2.4" fill="none"/>
<path d="M2287.6,880V1205" stroke="#c8c8c8" stroke-width="2.4" fill="none"/>
<line x1="1846.2" y1="920.9" x2="1979.2" y2="920.9" stroke="#1616b4" stroke-width="6"/>
<line x1="1846.2" y1="1001" x2="1979.2" y2="1001" stroke="#1818b0" stroke-width="6" stroke-dasharray="21 12.3"/>
<line x1="1846.2" y1="1082.6" x2="1979.2" y2="1082.6" stroke="#c83232" stroke-width="5"/>
<line x1="1846.2" y1="1162.5" x2="1979.2" y2="1162.5" stroke="#cc4646" stroke-width="6" stroke-dasharray="21 12.3"/>
</g>
<g id="panel-b">
<line x1="530.0" y1="1816.2" x2="2087.0" y2="1816.2" stroke="#d9d9d9" stroke-width="3"/>
<line x1="530.0" y1="1986.8" x2="2087.0" y2="1986.8" stroke="#d9d9d9" stroke-width="3"/>
<line x1="530.0" y1="2157.3" x2="2087.0" y2="2157.3" stroke="#d9d9d9" stroke-width="3"/>
<line x1="530.0" y1="2327.9" x2="2087.0" y2="2327.9" stroke="#d9d9d9" stroke-width="3"/>
<line x1="530.0" y1="2498.4" x2="2087.0" y2="2498.4" stroke="#d9d9d9" stroke-width="3"/>
<path d="M723.8,1832.4L1113.2,1955.3L1502.5,2022.4L1891.9,2061.0" fill="none" stroke="#0000c0" stroke-width="5"/>
<circle cx="723.8" cy="1832.4" r="24.5" fill="#0000ff"/>
<circle cx="1113.2" cy="1955.3" r="24.5" fill="#0000ff"/>
<circle cx="1502.5" cy="2022.4" r="24.5" fill="#0000ff"/>
<circle cx="1891.9" cy="2061.0" r="24.5" fill="#0000ff"/>
<path d="M723.8,2049.2L1113.2,2181.0L1502.5,2262.0L1891.9,2311.0" fill="none" stroke="#ee0000" stroke-width="5"/>
<circle cx="723.8" cy="2049.2" r="24.5" fill="#ff0000"/>
<circle cx="1113.2" cy="2181.0" r="24.5" fill="#ff0000"/>
<circle cx="1502.5" cy="2262.0" r="24.5" fill="#ff0000"/>
<circle cx="1891.9" cy="2311.0" r="24.5" fill="#ff0000"/>
<path d="M723.8,2259.3L1113.2,2262.0L1502.5,2293.4L1891.9,2313.8" fill="none" stroke="#0000c0" stroke-width="5" stroke-dasharray="22 9.5"/>
<circle cx="723.8" cy="2259.3" r="24.5" fill="#0000ff"/>
<circle cx="1113.2" cy="2262.0" r="24.5" fill="#0000ff"/>
<circle cx="1502.5" cy="2293.4" r="24.5" fill="#0000ff"/>
<circle cx="1891.9" cy="2313.8" r="24.5" fill="#0000ff"/>
<path d="M723.8,2308.5L1113.2,2412.9L1502.5,2476.8L1891.9,2518.2" fill="none" stroke="#ee0000" stroke-width="5" stroke-dasharray="22 9.5"/>
<circle cx="723.8" cy="2308.5" r="24.5" fill="#ff0000"/>
<circle cx="1113.2" cy="2412.9" r="24.5" fill="#ff0000"/>
<circle cx="1502.5" cy="2476.8" r="24.5" fill="#ff0000"/>
<circle cx="1891.9" cy="2518.2" r="24.5" fill="#ff0000"/>
<path d="M723.8,1731.0L1113.2,1839.0L1502.5,1897.0L1891.9,1930.0" fill="none" stroke="#0000c0" stroke-width="5"/>
<path d="M723.8,1701.0L753.8,1761.0L693.8,1761.0ZM723.8,1715.5L704.3,1754.5L743.3,1754.5Z" fill="#0000ff" fill-rule="evenodd"/>
<path d="M1113.2,1809.0L1143.2,1869.0L1083.2,1869.0ZM1113.2,1823.5L1093.7,1862.5L1132.7,1862.5Z" fill="#0000ff" fill-rule="evenodd"/>
<path d="M1502.5,1867.0L1532.5,1927.0L1472.5,1927.0ZM1502.5,1881.5L1483.0,1920.5L1522.0,1920.5Z" fill="#0000ff" fill-rule="evenodd"/>
<path d="M1891.9,1900.0L1921.9,1960.0L1861.9,1960.0ZM1891.9,1914.5L1872.4,1953.5L1911.4,1953.5Z" fill="#0000ff" fill-rule="evenodd"/>
<path d="M723.8,2060.7L1113.2,2172.0L1502.5,2233.0L1891.9,2275.0" fill="none" stroke="#ee0000" stroke-width="5"/>
<path d="M723.8,2030.7L753.8,2090.7L693.8,2090.7ZM723.8,2045.2L704.3,2084.2L743.3,2084.2Z" fill="#ff0000" fill-rule="evenodd"/>
<path d="M1113.2,2142.0L1143.2,2202.0L1083.2,2202.0ZM1113.2,2156.5L1093.7,2195.5L1132.7,2195.5Z" fill="#ff0000" fill-rule="evenodd"/>
<path d="M1502.5,2203.0L1532.5,2263.0L1472.5,2263.0ZM1502.5,2217.5L1483.0,2256.5L1522.0,2256.5Z" fill="#ff0000" fill-rule="evenodd"/>
<path d="M1891.9,2245.0L1921.9,2305.0L1861.9,2305.0ZM1891.9,2259.5L1872.4,2298.5L1911.4,2298.5Z" fill="#ff0000" fill-rule="evenodd"/>
<path d="M723.8,2175.7L1113.2,2210.0L1502.5,2231.7L1891.9,2244.5" fill="none" stroke="#0000c0" stroke-width="5" stroke-dasharray="22 9.5"/>
<path d="M723.8,2145.7L753.8,2205.7L693.8,2205.7ZM723.8,2160.2L704.3,2199.2L743.3,2199.2Z" fill="#0000ff" fill-rule="evenodd"/>
<path d="M1113.2,2180.0L1143.2,2240.0L1083.2,2240.0ZM1113.2,2194.5L1093.7,2233.5L1132.7,2233.5Z" fill="#0000ff" fill-rule="evenodd"/>
<path d="M1502.5,2201.7L1532.5,2261.7L1472.5,2261.7ZM1502.5,2216.2L1483.0,2255.2L1522.0,2255.2Z" fill="#0000ff" fill-rule="evenodd"/>
<path d="M1891.9,2214.5L1921.9,2274.5L1861.9,2274.5ZM1891.9,2229.0L1872.4,2268.0L1911.4,2268.0Z" fill="#0000ff" fill-rule="evenodd"/>
<path d="M723.8,2353.0L1113.2,2442.6L1502.5,2491.7L1891.9,2534.0" fill="none" stroke="#ee0000" stroke-width="5" stroke-dasharray="22 9.5"/>
<path d="M723.8,2323.0L753.8,2383.0L693.8,2383.0ZM723.8,2337.5L704.3,2376.5L743.3,2376.5Z" fill="#ff0000" fill-rule="evenodd"/>
<path d="M1113.2,2412.6L1143.2,2472.6L1083.2,2472.6ZM1113.2,2427.1L1093.7,2466.1L1132.7,2466.1Z" fill="#ff0000" fill-rule="evenodd"/>
<path d="M1502.5,2461.7L1532.5,2521.7L1472.5,2521.7ZM1502.5,2476.2L1483.0,2515.2L1522.0,2515.2Z" fill="#ff0000" fill-rule="evenodd"/>
<path d="M1891.9,2504.0L1921.9,2564.0L1861.9,2564.0ZM1891.9,2518.5L1872.4,2557.5L1911.4,2557.5Z" fill="#ff0000" fill-rule="evenodd"/>
<path d="M526.5,1643V2672.6" stroke="#b0b0b0" stroke-width="2.7" fill="none"/>
<path d="M526,2671.3H2087" stroke="#8c8c8c" stroke-width="2.7" fill="none"/>
<path d="M532.6,1648V2666" stroke="#e2e2e2" stroke-width="2.4" fill="none"/>
<path d="M529.35,1642.7V2669.7M527.9,2668.3H2089.9" stroke="#000" stroke-width="2.9" fill="none"/>
<path d="M527.9,1645.65H2087.05V2669.7" stroke="#0a0a0a" stroke-width="5.8" fill="none" stroke-linejoin="miter"/>
<path d="M566.2,1493V1606M566,1494.3H2060" stroke="#c4c4c4" stroke-width="2.6" fill="none"/>
<rect x="569.2" y="1496.6" width="1490.8" height="107.2" fill="#fff" stroke="#262626" stroke-width="3.1"/>
<circle cx="669.8" cy="1548.9" r="25.5" fill="#0000ff"/>
<circle cx="778.2" cy="1548.9" r="25.5" fill="#ff0000"/>
<path d="M1379.5,1520.7L1408.5,1577.3L1350.5,1577.3ZM1379.5,1535.0L1361.1,1570.8L1397.9,1570.8Z" fill="#0000ff" fill-rule="evenodd"/>
<path d="M1463.5,1520.7L1492.5,1577.3L1434.5,1577.3ZM1463.5,1535.0L1445.1,1570.8L1481.9,1570.8Z" fill="#ff0000" fill-rule="evenodd"/>
</g>
<text transform="translate(11.82,108.05) scale(1.0355,1)" font-size="112">(a)</text>
<text transform="translate(30.42,1475.45) scale(1.0559,1)" font-size="112">(b)</text>
<text x="228.00" y="95.00" font-size="71">800</text>
<text x="228.00" y="238.31" font-size="71">600</text>
<text x="228.00" y="381.63" font-size="71">400</text>
<text x="228.00" y="524.94" font-size="71">200</text>
<text x="299.00" y="668.25" font-size="71">0</text>
<text x="204.00" y="811.56" font-size="71">-200</text>
<text x="204.00" y="954.87" font-size="71">-400</text>
<text x="204.00" y="1098.19" font-size="71">-600</text>
<text x="204.00" y="1241.50" font-size="71">-800</text>
<text x="320.61" y="752.00" font-size="71">-0.02</text>
<text x="541.50" y="752.00" font-size="71">-0.015</text>
<text x="798.88" y="752.00" font-size="71">-0.01</text>
<text x="1019.27" y="752.00" font-size="71">-0.005</text>
<text x="1331.65" y="752.00" font-size="71">0</text>
<text x="1508.54" y="752.00" font-size="71">0.005</text>
<text x="1765.42" y="752.00" font-size="71">0.01</text>
<text x="1986.31" y="752.00" font-size="71">0.015</text>
<text x="2243.19" y="752.00" font-size="71">0.02</text>
<text transform="translate(1321.71,1346.00) scale(0.9929,1)" font-size="71">True strain</text>
<text transform="translate(177.50,908.98) rotate(-90) scale(0.9757,1)" font-size="71">True stress [MPa]</text>
<text transform="translate(1992.00,938.40) scale(1.0033,1)" font-size="56">Test1(1%)</text>
<text transform="translate(1992.00,1019.50) scale(1.0033,1)" font-size="56">Test2(1%)</text>
<text x="1992.00" y="1100.60" font-size="56">Test1(1.5%)</text>
<text x="1992.00" y="1180.20" font-size="56">Test2(1.5%)</text>
<text x="372.00" y="1665.70" font-size="68">680</text>
<text x="372.00" y="1836.24" font-size="68">660</text>
<text x="372.00" y="2006.78" font-size="68">640</text>
<text x="372.00" y="2177.32" font-size="68">620</text>
<text x="372.00" y="2347.86" font-size="68">600</text>
<text x="372.00" y="2518.40" font-size="68">580</text>
<text x="372.00" y="2688.94" font-size="68">560</text>
<text x="2143.70" y="1665.70" font-size="67.5">-660</text>
<text x="2143.70" y="1870.40" font-size="67.5">-640</text>
<text x="2143.70" y="2075.10" font-size="67.5">-620</text>
<text x="2143.70" y="2279.80" font-size="67.5">-600</text>
<text x="2143.70" y="2484.50" font-size="67.5">-580</text>
<text x="2143.70" y="2689.20" font-size="67.5">-560</text>
<text x="709.70" y="2769.50" font-size="70">1</text>
<text x="1094.30" y="2770.00" font-size="70">2</text>
<text x="1484.30" y="2769.50" font-size="70">3</text>
<text x="1873.50" y="2769.50" font-size="70">4</text>
<text transform="translate(1064.31,2839.50) scale(0.9879,1)" font-size="70">Number of cycles</text>
<text transform="translate(291.40,2551.50) rotate(-90) scale(0.9978,1)" font-size="79">Positive peak stress[MPa]</text>
<text transform="translate(2341.70,1678.50) rotate(90) scale(1.0011,1)" font-size="79">Negative peak stress[MPa]</text>
<text transform="translate(830.34,1568.00) scale(0.9561,1)" font-size="64">Under tension</text>
<text transform="translate(1526.74,1568.40) scale(0.9564,1)" font-size="64">Under compression</text>
</svg></body></html>
